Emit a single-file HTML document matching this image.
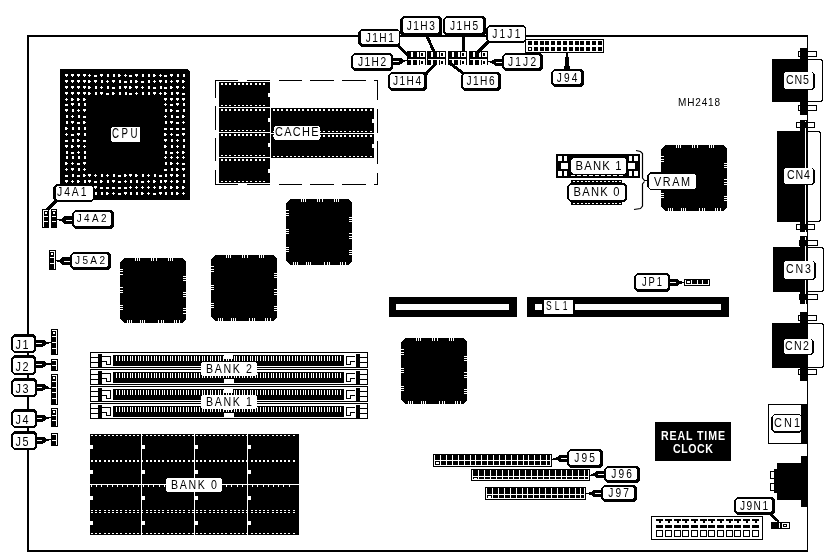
<!DOCTYPE html>
<html><head><meta charset="utf-8"><style>html,body{margin:0;padding:0;background:#fff;width:828px;height:557px;overflow:hidden}svg{display:block;will-change:transform}</style></head>
<body><svg width="828" height="557" viewBox="0 0 828 557" shape-rendering="crispEdges">
<rect width="828" height="557" fill="#fff"/>
<rect x="27" y="35" width="781" height="2" fill="#000"/>
<rect x="27" y="35" width="2" height="517" fill="#000"/>
<rect x="27" y="550" width="781" height="2" fill="#000"/>
<rect x="807" y="35" width="1" height="517" fill="#000"/>
<polygon points="60,69 187,69 190,72 190,200 60,200" fill="#000"/>
<rect x="65" y="74" width="3" height="2" fill="#fff"/>
<rect x="66" y="76" width="1" height="1" fill="#fff"/>
<rect x="65" y="80" width="3" height="2" fill="#fff"/>
<rect x="66" y="82" width="1" height="1" fill="#fff"/>
<rect x="65" y="86" width="3" height="2" fill="#fff"/>
<rect x="66" y="88" width="1" height="1" fill="#fff"/>
<rect x="65" y="92" width="3" height="2" fill="#fff"/>
<rect x="66" y="94" width="1" height="1" fill="#fff"/>
<rect x="66" y="98" width="1" height="3" fill="#fff"/>
<rect x="65" y="99" width="3" height="1" fill="#fff"/>
<rect x="65" y="103.5" width="3" height="2" fill="#fff"/>
<rect x="65" y="109" width="3" height="2" fill="#fff"/>
<rect x="66" y="111" width="1" height="1" fill="#fff"/>
<rect x="65.5" y="115" width="2" height="3" fill="#fff"/>
<rect x="65.5" y="121" width="2" height="3" fill="#fff"/>
<rect x="65" y="127" width="2" height="3" fill="#fff"/>
<rect x="67" y="128" width="1" height="1" fill="#fff"/>
<rect x="66" y="133" width="1" height="3" fill="#fff"/>
<rect x="65" y="134" width="3" height="1" fill="#fff"/>
<rect x="65" y="139.5" width="3" height="2" fill="#fff"/>
<rect x="65" y="145" width="3" height="2" fill="#fff"/>
<rect x="66" y="147" width="1" height="1" fill="#fff"/>
<rect x="65.5" y="151" width="2" height="3" fill="#fff"/>
<rect x="65.5" y="156" width="2" height="3" fill="#fff"/>
<rect x="65" y="162" width="2" height="3" fill="#fff"/>
<rect x="67" y="163" width="1" height="1" fill="#fff"/>
<rect x="66" y="168" width="1" height="3" fill="#fff"/>
<rect x="65" y="169" width="3" height="1" fill="#fff"/>
<rect x="65" y="174.5" width="3" height="2" fill="#fff"/>
<rect x="65" y="180" width="3" height="2" fill="#fff"/>
<rect x="66" y="182" width="1" height="1" fill="#fff"/>
<rect x="65.5" y="186" width="2" height="3" fill="#fff"/>
<rect x="65.5" y="192" width="2" height="3" fill="#fff"/>
<rect x="71" y="74" width="3" height="2" fill="#fff"/>
<rect x="72" y="76" width="1" height="1" fill="#fff"/>
<rect x="71" y="80" width="3" height="2" fill="#fff"/>
<rect x="72" y="82" width="1" height="1" fill="#fff"/>
<rect x="71" y="86" width="3" height="2" fill="#fff"/>
<rect x="72" y="88" width="1" height="1" fill="#fff"/>
<rect x="71" y="92" width="3" height="2" fill="#fff"/>
<rect x="72" y="94" width="1" height="1" fill="#fff"/>
<rect x="71" y="98" width="2" height="3" fill="#fff"/>
<rect x="73" y="99" width="1" height="1" fill="#fff"/>
<rect x="71" y="103" width="3" height="2" fill="#fff"/>
<rect x="72" y="105" width="1" height="1" fill="#fff"/>
<rect x="71.5" y="109" width="2" height="3" fill="#fff"/>
<rect x="72" y="115" width="1" height="3" fill="#fff"/>
<rect x="71" y="116" width="3" height="1" fill="#fff"/>
<rect x="71" y="121" width="3" height="2" fill="#fff"/>
<rect x="72" y="123" width="1" height="1" fill="#fff"/>
<rect x="71.5" y="127" width="2" height="3" fill="#fff"/>
<rect x="71" y="133.5" width="3" height="2" fill="#fff"/>
<rect x="71.5" y="139" width="2" height="3" fill="#fff"/>
<rect x="71" y="145" width="2" height="3" fill="#fff"/>
<rect x="73" y="146" width="1" height="1" fill="#fff"/>
<rect x="71" y="151.5" width="3" height="2" fill="#fff"/>
<rect x="71.5" y="156" width="2" height="3" fill="#fff"/>
<rect x="72" y="162" width="1" height="3" fill="#fff"/>
<rect x="71" y="163" width="3" height="1" fill="#fff"/>
<rect x="71" y="168" width="3" height="2" fill="#fff"/>
<rect x="72" y="170" width="1" height="1" fill="#fff"/>
<rect x="71.5" y="174" width="2" height="3" fill="#fff"/>
<rect x="72" y="180" width="1" height="3" fill="#fff"/>
<rect x="71" y="181" width="3" height="1" fill="#fff"/>
<rect x="71" y="186" width="3" height="2" fill="#fff"/>
<rect x="72" y="188" width="1" height="1" fill="#fff"/>
<rect x="71" y="192" width="2" height="3" fill="#fff"/>
<rect x="73" y="193" width="1" height="1" fill="#fff"/>
<rect x="77" y="74" width="3" height="2" fill="#fff"/>
<rect x="78" y="76" width="1" height="1" fill="#fff"/>
<rect x="77" y="80" width="3" height="2" fill="#fff"/>
<rect x="78" y="82" width="1" height="1" fill="#fff"/>
<rect x="77" y="86" width="3" height="2" fill="#fff"/>
<rect x="78" y="88" width="1" height="1" fill="#fff"/>
<rect x="77" y="92" width="3" height="2" fill="#fff"/>
<rect x="78" y="94" width="1" height="1" fill="#fff"/>
<rect x="77" y="98" width="2" height="3" fill="#fff"/>
<rect x="79" y="99" width="1" height="1" fill="#fff"/>
<rect x="77.5" y="103" width="2" height="3" fill="#fff"/>
<rect x="78" y="109" width="1" height="3" fill="#fff"/>
<rect x="77" y="110" width="3" height="1" fill="#fff"/>
<rect x="77.5" y="115" width="2" height="3" fill="#fff"/>
<rect x="77" y="121.5" width="3" height="2" fill="#fff"/>
<rect x="77.5" y="127" width="2" height="3" fill="#fff"/>
<rect x="77" y="133" width="3" height="2" fill="#fff"/>
<rect x="78" y="135" width="1" height="1" fill="#fff"/>
<rect x="77" y="139" width="2" height="3" fill="#fff"/>
<rect x="79" y="140" width="1" height="1" fill="#fff"/>
<rect x="77" y="145" width="3" height="2" fill="#fff"/>
<rect x="78" y="147" width="1" height="1" fill="#fff"/>
<rect x="78" y="151" width="1" height="3" fill="#fff"/>
<rect x="77" y="152" width="3" height="1" fill="#fff"/>
<rect x="77.5" y="156" width="2" height="3" fill="#fff"/>
<rect x="77" y="162.5" width="3" height="2" fill="#fff"/>
<rect x="77.5" y="168" width="2" height="3" fill="#fff"/>
<rect x="77" y="174.5" width="3" height="2" fill="#fff"/>
<rect x="77" y="180" width="2" height="3" fill="#fff"/>
<rect x="79" y="181" width="1" height="1" fill="#fff"/>
<rect x="77" y="186" width="3" height="2" fill="#fff"/>
<rect x="78" y="188" width="1" height="1" fill="#fff"/>
<rect x="78" y="192" width="1" height="3" fill="#fff"/>
<rect x="77" y="193" width="3" height="1" fill="#fff"/>
<rect x="83" y="74" width="3" height="2" fill="#fff"/>
<rect x="84" y="76" width="1" height="1" fill="#fff"/>
<rect x="83" y="80" width="3" height="2" fill="#fff"/>
<rect x="84" y="82" width="1" height="1" fill="#fff"/>
<rect x="83" y="86" width="3" height="2" fill="#fff"/>
<rect x="84" y="88" width="1" height="1" fill="#fff"/>
<rect x="83" y="92" width="3" height="2" fill="#fff"/>
<rect x="84" y="94" width="1" height="1" fill="#fff"/>
<rect x="83" y="98" width="2" height="3" fill="#fff"/>
<rect x="85" y="99" width="1" height="1" fill="#fff"/>
<rect x="83.5" y="103" width="2" height="3" fill="#fff"/>
<rect x="83" y="109" width="3" height="2" fill="#fff"/>
<rect x="84" y="111" width="1" height="1" fill="#fff"/>
<rect x="83" y="115.5" width="3" height="2" fill="#fff"/>
<rect x="83" y="121" width="2" height="3" fill="#fff"/>
<rect x="85" y="122" width="1" height="1" fill="#fff"/>
<rect x="83.5" y="127" width="2" height="3" fill="#fff"/>
<rect x="83.5" y="133" width="2" height="3" fill="#fff"/>
<rect x="83" y="139.5" width="3" height="2" fill="#fff"/>
<rect x="84" y="145" width="1" height="3" fill="#fff"/>
<rect x="83" y="146" width="3" height="1" fill="#fff"/>
<rect x="83.5" y="151" width="2" height="3" fill="#fff"/>
<rect x="83.5" y="156" width="2" height="3" fill="#fff"/>
<rect x="83" y="162" width="3" height="2" fill="#fff"/>
<rect x="84" y="164" width="1" height="1" fill="#fff"/>
<rect x="84" y="168" width="1" height="3" fill="#fff"/>
<rect x="83" y="169" width="3" height="1" fill="#fff"/>
<rect x="83" y="174" width="2" height="3" fill="#fff"/>
<rect x="85" y="175" width="1" height="1" fill="#fff"/>
<rect x="83.5" y="180" width="2" height="3" fill="#fff"/>
<rect x="83" y="186" width="3" height="2" fill="#fff"/>
<rect x="84" y="188" width="1" height="1" fill="#fff"/>
<rect x="83" y="192.5" width="3" height="2" fill="#fff"/>
<rect x="89" y="74" width="1" height="3" fill="#fff"/>
<rect x="88" y="75" width="3" height="1" fill="#fff"/>
<rect x="88" y="80" width="2" height="3" fill="#fff"/>
<rect x="90" y="81" width="1" height="1" fill="#fff"/>
<rect x="88" y="86" width="2" height="3" fill="#fff"/>
<rect x="90" y="87" width="1" height="1" fill="#fff"/>
<rect x="88" y="92" width="2" height="3" fill="#fff"/>
<rect x="90" y="93" width="1" height="1" fill="#fff"/>
<rect x="88" y="174" width="3" height="2" fill="#fff"/>
<rect x="89" y="176" width="1" height="1" fill="#fff"/>
<rect x="88" y="180" width="3" height="2" fill="#fff"/>
<rect x="89" y="182" width="1" height="1" fill="#fff"/>
<rect x="88" y="186" width="3" height="2" fill="#fff"/>
<rect x="89" y="188" width="1" height="1" fill="#fff"/>
<rect x="88" y="192" width="3" height="2" fill="#fff"/>
<rect x="89" y="194" width="1" height="1" fill="#fff"/>
<rect x="94" y="74.5" width="3" height="2" fill="#fff"/>
<rect x="94" y="80" width="3" height="2" fill="#fff"/>
<rect x="95" y="82" width="1" height="1" fill="#fff"/>
<rect x="94.5" y="86" width="2" height="3" fill="#fff"/>
<rect x="94.5" y="92" width="2" height="3" fill="#fff"/>
<rect x="95" y="174" width="1" height="3" fill="#fff"/>
<rect x="94" y="175" width="3" height="1" fill="#fff"/>
<rect x="94" y="180.5" width="3" height="2" fill="#fff"/>
<rect x="94" y="186" width="3" height="2" fill="#fff"/>
<rect x="95" y="188" width="1" height="1" fill="#fff"/>
<rect x="94.5" y="192" width="2" height="3" fill="#fff"/>
<rect x="100" y="74" width="3" height="2" fill="#fff"/>
<rect x="101" y="76" width="1" height="1" fill="#fff"/>
<rect x="100.5" y="80" width="2" height="3" fill="#fff"/>
<rect x="101" y="86" width="1" height="3" fill="#fff"/>
<rect x="100" y="87" width="3" height="1" fill="#fff"/>
<rect x="100" y="92" width="3" height="2" fill="#fff"/>
<rect x="101" y="94" width="1" height="1" fill="#fff"/>
<rect x="100.5" y="174" width="2" height="3" fill="#fff"/>
<rect x="100" y="180" width="2" height="3" fill="#fff"/>
<rect x="102" y="181" width="1" height="1" fill="#fff"/>
<rect x="100" y="186.5" width="3" height="2" fill="#fff"/>
<rect x="100.5" y="192" width="2" height="3" fill="#fff"/>
<rect x="106.5" y="74" width="2" height="3" fill="#fff"/>
<rect x="107" y="80" width="1" height="3" fill="#fff"/>
<rect x="106" y="81" width="3" height="1" fill="#fff"/>
<rect x="106.5" y="86" width="2" height="3" fill="#fff"/>
<rect x="106" y="92.5" width="3" height="2" fill="#fff"/>
<rect x="107" y="174" width="1" height="3" fill="#fff"/>
<rect x="106" y="175" width="3" height="1" fill="#fff"/>
<rect x="106.5" y="180" width="2" height="3" fill="#fff"/>
<rect x="106" y="186.5" width="3" height="2" fill="#fff"/>
<rect x="106" y="192" width="2" height="3" fill="#fff"/>
<rect x="108" y="193" width="1" height="1" fill="#fff"/>
<rect x="112.5" y="74" width="2" height="3" fill="#fff"/>
<rect x="112" y="80" width="3" height="2" fill="#fff"/>
<rect x="113" y="82" width="1" height="1" fill="#fff"/>
<rect x="112" y="86.5" width="3" height="2" fill="#fff"/>
<rect x="112" y="92" width="2" height="3" fill="#fff"/>
<rect x="114" y="93" width="1" height="1" fill="#fff"/>
<rect x="112.5" y="174" width="2" height="3" fill="#fff"/>
<rect x="112" y="180" width="3" height="2" fill="#fff"/>
<rect x="113" y="182" width="1" height="1" fill="#fff"/>
<rect x="112" y="186.5" width="3" height="2" fill="#fff"/>
<rect x="113" y="192" width="1" height="3" fill="#fff"/>
<rect x="112" y="193" width="3" height="1" fill="#fff"/>
<rect x="118" y="74" width="2" height="3" fill="#fff"/>
<rect x="120" y="75" width="1" height="1" fill="#fff"/>
<rect x="118.5" y="80" width="2" height="3" fill="#fff"/>
<rect x="118.5" y="86" width="2" height="3" fill="#fff"/>
<rect x="118.5" y="92" width="2" height="3" fill="#fff"/>
<rect x="118" y="174.5" width="3" height="2" fill="#fff"/>
<rect x="118" y="180.5" width="3" height="2" fill="#fff"/>
<rect x="118" y="186.5" width="3" height="2" fill="#fff"/>
<rect x="118" y="192.5" width="3" height="2" fill="#fff"/>
<rect x="125" y="74" width="1" height="3" fill="#fff"/>
<rect x="124" y="75" width="3" height="1" fill="#fff"/>
<rect x="124" y="80.5" width="3" height="2" fill="#fff"/>
<rect x="124" y="86" width="3" height="2" fill="#fff"/>
<rect x="125" y="88" width="1" height="1" fill="#fff"/>
<rect x="124.5" y="92" width="2" height="3" fill="#fff"/>
<rect x="124" y="174" width="2" height="3" fill="#fff"/>
<rect x="126" y="175" width="1" height="1" fill="#fff"/>
<rect x="125" y="180" width="1" height="3" fill="#fff"/>
<rect x="124" y="181" width="3" height="1" fill="#fff"/>
<rect x="124" y="186.5" width="3" height="2" fill="#fff"/>
<rect x="124" y="192" width="3" height="2" fill="#fff"/>
<rect x="125" y="194" width="1" height="1" fill="#fff"/>
<rect x="129" y="74.5" width="3" height="2" fill="#fff"/>
<rect x="129.5" y="80" width="2" height="3" fill="#fff"/>
<rect x="129" y="86" width="2" height="3" fill="#fff"/>
<rect x="131" y="87" width="1" height="1" fill="#fff"/>
<rect x="129" y="92.5" width="3" height="2" fill="#fff"/>
<rect x="129" y="174" width="3" height="2" fill="#fff"/>
<rect x="130" y="176" width="1" height="1" fill="#fff"/>
<rect x="129.5" y="180" width="2" height="3" fill="#fff"/>
<rect x="130" y="186" width="1" height="3" fill="#fff"/>
<rect x="129" y="187" width="3" height="1" fill="#fff"/>
<rect x="129.5" y="192" width="2" height="3" fill="#fff"/>
<rect x="135" y="74" width="3" height="2" fill="#fff"/>
<rect x="136" y="76" width="1" height="1" fill="#fff"/>
<rect x="135" y="80" width="2" height="3" fill="#fff"/>
<rect x="137" y="81" width="1" height="1" fill="#fff"/>
<rect x="135" y="86" width="3" height="2" fill="#fff"/>
<rect x="136" y="88" width="1" height="1" fill="#fff"/>
<rect x="136" y="92" width="1" height="3" fill="#fff"/>
<rect x="135" y="93" width="3" height="1" fill="#fff"/>
<rect x="135" y="174" width="2" height="3" fill="#fff"/>
<rect x="137" y="175" width="1" height="1" fill="#fff"/>
<rect x="135.5" y="180" width="2" height="3" fill="#fff"/>
<rect x="136" y="186" width="1" height="3" fill="#fff"/>
<rect x="135" y="187" width="3" height="1" fill="#fff"/>
<rect x="135.5" y="192" width="2" height="3" fill="#fff"/>
<rect x="141.5" y="74" width="2" height="3" fill="#fff"/>
<rect x="141" y="80.5" width="3" height="2" fill="#fff"/>
<rect x="142" y="86" width="1" height="3" fill="#fff"/>
<rect x="141" y="87" width="3" height="1" fill="#fff"/>
<rect x="141.5" y="92" width="2" height="3" fill="#fff"/>
<rect x="141.5" y="174" width="2" height="3" fill="#fff"/>
<rect x="141" y="180.5" width="3" height="2" fill="#fff"/>
<rect x="142" y="186" width="1" height="3" fill="#fff"/>
<rect x="141" y="187" width="3" height="1" fill="#fff"/>
<rect x="141" y="192" width="2" height="3" fill="#fff"/>
<rect x="143" y="193" width="1" height="1" fill="#fff"/>
<rect x="147.5" y="74" width="2" height="3" fill="#fff"/>
<rect x="147.5" y="80" width="2" height="3" fill="#fff"/>
<rect x="147.5" y="86" width="2" height="3" fill="#fff"/>
<rect x="147.5" y="92" width="2" height="3" fill="#fff"/>
<rect x="148" y="174" width="1" height="3" fill="#fff"/>
<rect x="147" y="175" width="3" height="1" fill="#fff"/>
<rect x="148" y="180" width="1" height="3" fill="#fff"/>
<rect x="147" y="181" width="3" height="1" fill="#fff"/>
<rect x="148" y="186" width="1" height="3" fill="#fff"/>
<rect x="147" y="187" width="3" height="1" fill="#fff"/>
<rect x="148" y="192" width="1" height="3" fill="#fff"/>
<rect x="147" y="193" width="3" height="1" fill="#fff"/>
<rect x="153" y="74" width="2" height="3" fill="#fff"/>
<rect x="155" y="75" width="1" height="1" fill="#fff"/>
<rect x="154" y="80" width="1" height="3" fill="#fff"/>
<rect x="153" y="81" width="3" height="1" fill="#fff"/>
<rect x="153" y="86.5" width="3" height="2" fill="#fff"/>
<rect x="153" y="92" width="3" height="2" fill="#fff"/>
<rect x="154" y="94" width="1" height="1" fill="#fff"/>
<rect x="153.5" y="174" width="2" height="3" fill="#fff"/>
<rect x="153" y="180" width="2" height="3" fill="#fff"/>
<rect x="155" y="181" width="1" height="1" fill="#fff"/>
<rect x="154" y="186" width="1" height="3" fill="#fff"/>
<rect x="153" y="187" width="3" height="1" fill="#fff"/>
<rect x="153" y="192.5" width="3" height="2" fill="#fff"/>
<rect x="160" y="74" width="1" height="3" fill="#fff"/>
<rect x="159" y="75" width="3" height="1" fill="#fff"/>
<rect x="159" y="80" width="3" height="2" fill="#fff"/>
<rect x="160" y="82" width="1" height="1" fill="#fff"/>
<rect x="159.5" y="86" width="2" height="3" fill="#fff"/>
<rect x="160" y="92" width="1" height="3" fill="#fff"/>
<rect x="159" y="93" width="3" height="1" fill="#fff"/>
<rect x="159" y="174.5" width="3" height="2" fill="#fff"/>
<rect x="159.5" y="180" width="2" height="3" fill="#fff"/>
<rect x="159" y="186" width="2" height="3" fill="#fff"/>
<rect x="161" y="187" width="1" height="1" fill="#fff"/>
<rect x="159" y="192" width="3" height="2" fill="#fff"/>
<rect x="160" y="194" width="1" height="1" fill="#fff"/>
<rect x="164" y="74.5" width="3" height="2" fill="#fff"/>
<rect x="164.5" y="80" width="2" height="3" fill="#fff"/>
<rect x="164" y="86.5" width="3" height="2" fill="#fff"/>
<rect x="164" y="92" width="2" height="3" fill="#fff"/>
<rect x="166" y="93" width="1" height="1" fill="#fff"/>
<rect x="164" y="98" width="3" height="2" fill="#fff"/>
<rect x="165" y="100" width="1" height="1" fill="#fff"/>
<rect x="165" y="103" width="1" height="3" fill="#fff"/>
<rect x="164" y="104" width="3" height="1" fill="#fff"/>
<rect x="164.5" y="109" width="2" height="3" fill="#fff"/>
<rect x="165" y="115" width="1" height="3" fill="#fff"/>
<rect x="164" y="116" width="3" height="1" fill="#fff"/>
<rect x="164.5" y="121" width="2" height="3" fill="#fff"/>
<rect x="164" y="127.5" width="3" height="2" fill="#fff"/>
<rect x="164" y="133" width="2" height="3" fill="#fff"/>
<rect x="166" y="134" width="1" height="1" fill="#fff"/>
<rect x="164" y="139" width="3" height="2" fill="#fff"/>
<rect x="165" y="141" width="1" height="1" fill="#fff"/>
<rect x="164" y="145" width="2" height="3" fill="#fff"/>
<rect x="166" y="146" width="1" height="1" fill="#fff"/>
<rect x="164.5" y="151" width="2" height="3" fill="#fff"/>
<rect x="165" y="156" width="1" height="3" fill="#fff"/>
<rect x="164" y="157" width="3" height="1" fill="#fff"/>
<rect x="164.5" y="162" width="2" height="3" fill="#fff"/>
<rect x="164" y="168.5" width="3" height="2" fill="#fff"/>
<rect x="164.5" y="174" width="2" height="3" fill="#fff"/>
<rect x="164" y="180" width="3" height="2" fill="#fff"/>
<rect x="165" y="182" width="1" height="1" fill="#fff"/>
<rect x="164" y="186" width="2" height="3" fill="#fff"/>
<rect x="166" y="187" width="1" height="1" fill="#fff"/>
<rect x="164.5" y="192" width="2" height="3" fill="#fff"/>
<rect x="170" y="74" width="3" height="2" fill="#fff"/>
<rect x="171" y="76" width="1" height="1" fill="#fff"/>
<rect x="171" y="80" width="1" height="3" fill="#fff"/>
<rect x="170" y="81" width="3" height="1" fill="#fff"/>
<rect x="170" y="86" width="2" height="3" fill="#fff"/>
<rect x="172" y="87" width="1" height="1" fill="#fff"/>
<rect x="170.5" y="92" width="2" height="3" fill="#fff"/>
<rect x="170" y="98" width="3" height="2" fill="#fff"/>
<rect x="171" y="100" width="1" height="1" fill="#fff"/>
<rect x="170" y="103.5" width="3" height="2" fill="#fff"/>
<rect x="170" y="109" width="2" height="3" fill="#fff"/>
<rect x="172" y="110" width="1" height="1" fill="#fff"/>
<rect x="170.5" y="115" width="2" height="3" fill="#fff"/>
<rect x="170" y="121" width="3" height="2" fill="#fff"/>
<rect x="171" y="123" width="1" height="1" fill="#fff"/>
<rect x="170" y="127.5" width="3" height="2" fill="#fff"/>
<rect x="171" y="133" width="1" height="3" fill="#fff"/>
<rect x="170" y="134" width="3" height="1" fill="#fff"/>
<rect x="170.5" y="139" width="2" height="3" fill="#fff"/>
<rect x="170.5" y="145" width="2" height="3" fill="#fff"/>
<rect x="170" y="151.5" width="3" height="2" fill="#fff"/>
<rect x="171" y="156" width="1" height="3" fill="#fff"/>
<rect x="170" y="157" width="3" height="1" fill="#fff"/>
<rect x="170" y="162" width="2" height="3" fill="#fff"/>
<rect x="172" y="163" width="1" height="1" fill="#fff"/>
<rect x="170.5" y="168" width="2" height="3" fill="#fff"/>
<rect x="170" y="174" width="3" height="2" fill="#fff"/>
<rect x="171" y="176" width="1" height="1" fill="#fff"/>
<rect x="171" y="180" width="1" height="3" fill="#fff"/>
<rect x="170" y="181" width="3" height="1" fill="#fff"/>
<rect x="170" y="186" width="2" height="3" fill="#fff"/>
<rect x="172" y="187" width="1" height="1" fill="#fff"/>
<rect x="170.5" y="192" width="2" height="3" fill="#fff"/>
<rect x="176.5" y="74" width="2" height="3" fill="#fff"/>
<rect x="176" y="80" width="3" height="2" fill="#fff"/>
<rect x="177" y="82" width="1" height="1" fill="#fff"/>
<rect x="176" y="86" width="3" height="2" fill="#fff"/>
<rect x="177" y="88" width="1" height="1" fill="#fff"/>
<rect x="176" y="92" width="3" height="2" fill="#fff"/>
<rect x="177" y="94" width="1" height="1" fill="#fff"/>
<rect x="176" y="98" width="3" height="2" fill="#fff"/>
<rect x="177" y="100" width="1" height="1" fill="#fff"/>
<rect x="176" y="103" width="3" height="2" fill="#fff"/>
<rect x="177" y="105" width="1" height="1" fill="#fff"/>
<rect x="176" y="109.5" width="3" height="2" fill="#fff"/>
<rect x="176" y="115.5" width="3" height="2" fill="#fff"/>
<rect x="176" y="121.5" width="3" height="2" fill="#fff"/>
<rect x="176" y="127.5" width="3" height="2" fill="#fff"/>
<rect x="176" y="133.5" width="3" height="2" fill="#fff"/>
<rect x="177" y="139" width="1" height="3" fill="#fff"/>
<rect x="176" y="140" width="3" height="1" fill="#fff"/>
<rect x="177" y="145" width="1" height="3" fill="#fff"/>
<rect x="176" y="146" width="3" height="1" fill="#fff"/>
<rect x="177" y="151" width="1" height="3" fill="#fff"/>
<rect x="176" y="152" width="3" height="1" fill="#fff"/>
<rect x="177" y="156" width="1" height="3" fill="#fff"/>
<rect x="176" y="157" width="3" height="1" fill="#fff"/>
<rect x="177" y="162" width="1" height="3" fill="#fff"/>
<rect x="176" y="163" width="3" height="1" fill="#fff"/>
<rect x="176" y="168" width="2" height="3" fill="#fff"/>
<rect x="178" y="169" width="1" height="1" fill="#fff"/>
<rect x="176" y="174" width="2" height="3" fill="#fff"/>
<rect x="178" y="175" width="1" height="1" fill="#fff"/>
<rect x="176" y="180" width="2" height="3" fill="#fff"/>
<rect x="178" y="181" width="1" height="1" fill="#fff"/>
<rect x="176" y="186" width="2" height="3" fill="#fff"/>
<rect x="178" y="187" width="1" height="1" fill="#fff"/>
<rect x="176" y="192" width="2" height="3" fill="#fff"/>
<rect x="178" y="193" width="1" height="1" fill="#fff"/>
<rect x="182.5" y="74" width="2" height="3" fill="#fff"/>
<rect x="182" y="80" width="2" height="3" fill="#fff"/>
<rect x="184" y="81" width="1" height="1" fill="#fff"/>
<rect x="183" y="86" width="1" height="3" fill="#fff"/>
<rect x="182" y="87" width="3" height="1" fill="#fff"/>
<rect x="182" y="92.5" width="3" height="2" fill="#fff"/>
<rect x="182" y="98" width="3" height="2" fill="#fff"/>
<rect x="183" y="100" width="1" height="1" fill="#fff"/>
<rect x="182.5" y="103" width="2" height="3" fill="#fff"/>
<rect x="182.5" y="109" width="2" height="3" fill="#fff"/>
<rect x="182" y="115" width="2" height="3" fill="#fff"/>
<rect x="184" y="116" width="1" height="1" fill="#fff"/>
<rect x="183" y="121" width="1" height="3" fill="#fff"/>
<rect x="182" y="122" width="3" height="1" fill="#fff"/>
<rect x="182" y="127.5" width="3" height="2" fill="#fff"/>
<rect x="182" y="133" width="3" height="2" fill="#fff"/>
<rect x="183" y="135" width="1" height="1" fill="#fff"/>
<rect x="182.5" y="139" width="2" height="3" fill="#fff"/>
<rect x="182.5" y="145" width="2" height="3" fill="#fff"/>
<rect x="182" y="151" width="2" height="3" fill="#fff"/>
<rect x="184" y="152" width="1" height="1" fill="#fff"/>
<rect x="183" y="156" width="1" height="3" fill="#fff"/>
<rect x="182" y="157" width="3" height="1" fill="#fff"/>
<rect x="182" y="162.5" width="3" height="2" fill="#fff"/>
<rect x="182" y="168" width="3" height="2" fill="#fff"/>
<rect x="183" y="170" width="1" height="1" fill="#fff"/>
<rect x="182.5" y="174" width="2" height="3" fill="#fff"/>
<rect x="182.5" y="180" width="2" height="3" fill="#fff"/>
<rect x="182" y="186" width="2" height="3" fill="#fff"/>
<rect x="184" y="187" width="1" height="1" fill="#fff"/>
<rect x="183" y="192" width="1" height="3" fill="#fff"/>
<rect x="182" y="193" width="3" height="1" fill="#fff"/>
<polygon points="111,128 112,127 139,127 140,128 140,141 139,142 112,142 111,141" fill="#fff"/>
<text transform="translate(112 138) scale(0.7 1)" font-family="Liberation Sans" font-size="13.89"  textLength="36.43" lengthAdjust="spacing" fill="#000">CPU</text>
<polygon points="286,203 290,199 348,199 352,203 352,261 348,265 290,265 286,261" fill="#000"/>
<rect x="301" y="199" width="1" height="3" fill="#fff"/>
<rect x="303" y="199" width="1" height="3" fill="#fff"/>
<rect x="305" y="199" width="1" height="3" fill="#fff"/>
<rect x="317" y="199" width="1" height="3" fill="#fff"/>
<rect x="319" y="199" width="1" height="3" fill="#fff"/>
<rect x="322" y="199" width="1" height="3" fill="#fff"/>
<rect x="334" y="199" width="1" height="3" fill="#fff"/>
<rect x="336" y="199" width="1" height="3" fill="#fff"/>
<rect x="338" y="199" width="1" height="3" fill="#fff"/>
<rect x="293" y="262" width="1" height="3" fill="#fff"/>
<rect x="295" y="262" width="1" height="3" fill="#fff"/>
<rect x="297" y="262" width="1" height="3" fill="#fff"/>
<rect x="306" y="262" width="1" height="3" fill="#fff"/>
<rect x="308" y="262" width="1" height="3" fill="#fff"/>
<rect x="310" y="262" width="1" height="3" fill="#fff"/>
<rect x="324" y="262" width="1" height="3" fill="#fff"/>
<rect x="327" y="262" width="1" height="3" fill="#fff"/>
<rect x="329" y="262" width="1" height="3" fill="#fff"/>
<rect x="340" y="262" width="1" height="3" fill="#fff"/>
<rect x="342" y="262" width="1" height="3" fill="#fff"/>
<rect x="345" y="262" width="1" height="3" fill="#fff"/>
<rect x="286" y="210" width="3" height="1" fill="#fff"/>
<rect x="286" y="213" width="3" height="1" fill="#fff"/>
<rect x="286" y="215" width="3" height="1" fill="#fff"/>
<rect x="286" y="229" width="3" height="1" fill="#fff"/>
<rect x="286" y="231" width="3" height="1" fill="#fff"/>
<rect x="286" y="233" width="3" height="1" fill="#fff"/>
<rect x="286" y="247" width="3" height="1" fill="#fff"/>
<rect x="286" y="249" width="3" height="1" fill="#fff"/>
<rect x="286" y="251" width="3" height="1" fill="#fff"/>
<rect x="349" y="217" width="3" height="1" fill="#fff"/>
<rect x="349" y="219" width="3" height="1" fill="#fff"/>
<rect x="349" y="221" width="3" height="1" fill="#fff"/>
<rect x="349" y="233" width="3" height="1" fill="#fff"/>
<rect x="349" y="236" width="3" height="1" fill="#fff"/>
<rect x="349" y="238" width="3" height="1" fill="#fff"/>
<rect x="349" y="250" width="3" height="1" fill="#fff"/>
<rect x="349" y="252" width="3" height="1" fill="#fff"/>
<rect x="349" y="254" width="3" height="1" fill="#fff"/>
<polygon points="120,262 124,258 182,258 186,262 186,319 182,323 124,323 120,319" fill="#000"/>
<rect x="135" y="258" width="1" height="3" fill="#fff"/>
<rect x="137" y="258" width="1" height="3" fill="#fff"/>
<rect x="139" y="258" width="1" height="3" fill="#fff"/>
<rect x="151" y="258" width="1" height="3" fill="#fff"/>
<rect x="153" y="258" width="1" height="3" fill="#fff"/>
<rect x="156" y="258" width="1" height="3" fill="#fff"/>
<rect x="168" y="258" width="1" height="3" fill="#fff"/>
<rect x="170" y="258" width="1" height="3" fill="#fff"/>
<rect x="172" y="258" width="1" height="3" fill="#fff"/>
<rect x="127" y="320" width="1" height="3" fill="#fff"/>
<rect x="129" y="320" width="1" height="3" fill="#fff"/>
<rect x="131" y="320" width="1" height="3" fill="#fff"/>
<rect x="140" y="320" width="1" height="3" fill="#fff"/>
<rect x="142" y="320" width="1" height="3" fill="#fff"/>
<rect x="144" y="320" width="1" height="3" fill="#fff"/>
<rect x="158" y="320" width="1" height="3" fill="#fff"/>
<rect x="161" y="320" width="1" height="3" fill="#fff"/>
<rect x="163" y="320" width="1" height="3" fill="#fff"/>
<rect x="174" y="320" width="1" height="3" fill="#fff"/>
<rect x="176" y="320" width="1" height="3" fill="#fff"/>
<rect x="179" y="320" width="1" height="3" fill="#fff"/>
<rect x="120" y="269" width="3" height="1" fill="#fff"/>
<rect x="120" y="271" width="3" height="1" fill="#fff"/>
<rect x="120" y="274" width="3" height="1" fill="#fff"/>
<rect x="120" y="287" width="3" height="1" fill="#fff"/>
<rect x="120" y="290" width="3" height="1" fill="#fff"/>
<rect x="120" y="292" width="3" height="1" fill="#fff"/>
<rect x="120" y="305" width="3" height="1" fill="#fff"/>
<rect x="120" y="307" width="3" height="1" fill="#fff"/>
<rect x="120" y="309" width="3" height="1" fill="#fff"/>
<rect x="183" y="276" width="3" height="1" fill="#fff"/>
<rect x="183" y="278" width="3" height="1" fill="#fff"/>
<rect x="183" y="280" width="3" height="1" fill="#fff"/>
<rect x="183" y="292" width="3" height="1" fill="#fff"/>
<rect x="183" y="294" width="3" height="1" fill="#fff"/>
<rect x="183" y="296" width="3" height="1" fill="#fff"/>
<rect x="183" y="308" width="3" height="1" fill="#fff"/>
<rect x="183" y="310" width="3" height="1" fill="#fff"/>
<rect x="183" y="313" width="3" height="1" fill="#fff"/>
<polygon points="211,259 215,255 273,255 277,259 277,317 273,321 215,321 211,317" fill="#000"/>
<rect x="226" y="255" width="1" height="3" fill="#fff"/>
<rect x="228" y="255" width="1" height="3" fill="#fff"/>
<rect x="230" y="255" width="1" height="3" fill="#fff"/>
<rect x="242" y="255" width="1" height="3" fill="#fff"/>
<rect x="244" y="255" width="1" height="3" fill="#fff"/>
<rect x="247" y="255" width="1" height="3" fill="#fff"/>
<rect x="259" y="255" width="1" height="3" fill="#fff"/>
<rect x="261" y="255" width="1" height="3" fill="#fff"/>
<rect x="263" y="255" width="1" height="3" fill="#fff"/>
<rect x="218" y="318" width="1" height="3" fill="#fff"/>
<rect x="220" y="318" width="1" height="3" fill="#fff"/>
<rect x="222" y="318" width="1" height="3" fill="#fff"/>
<rect x="231" y="318" width="1" height="3" fill="#fff"/>
<rect x="233" y="318" width="1" height="3" fill="#fff"/>
<rect x="235" y="318" width="1" height="3" fill="#fff"/>
<rect x="249" y="318" width="1" height="3" fill="#fff"/>
<rect x="252" y="318" width="1" height="3" fill="#fff"/>
<rect x="254" y="318" width="1" height="3" fill="#fff"/>
<rect x="265" y="318" width="1" height="3" fill="#fff"/>
<rect x="267" y="318" width="1" height="3" fill="#fff"/>
<rect x="270" y="318" width="1" height="3" fill="#fff"/>
<rect x="211" y="266" width="3" height="1" fill="#fff"/>
<rect x="211" y="269" width="3" height="1" fill="#fff"/>
<rect x="211" y="271" width="3" height="1" fill="#fff"/>
<rect x="211" y="285" width="3" height="1" fill="#fff"/>
<rect x="211" y="287" width="3" height="1" fill="#fff"/>
<rect x="211" y="289" width="3" height="1" fill="#fff"/>
<rect x="211" y="303" width="3" height="1" fill="#fff"/>
<rect x="211" y="305" width="3" height="1" fill="#fff"/>
<rect x="211" y="307" width="3" height="1" fill="#fff"/>
<rect x="274" y="273" width="3" height="1" fill="#fff"/>
<rect x="274" y="275" width="3" height="1" fill="#fff"/>
<rect x="274" y="277" width="3" height="1" fill="#fff"/>
<rect x="274" y="289" width="3" height="1" fill="#fff"/>
<rect x="274" y="292" width="3" height="1" fill="#fff"/>
<rect x="274" y="294" width="3" height="1" fill="#fff"/>
<rect x="274" y="306" width="3" height="1" fill="#fff"/>
<rect x="274" y="308" width="3" height="1" fill="#fff"/>
<rect x="274" y="310" width="3" height="1" fill="#fff"/>
<polygon points="401,342 405,338 463,338 467,342 467,400 463,404 405,404 401,400" fill="#000"/>
<rect x="416" y="338" width="1" height="3" fill="#fff"/>
<rect x="418" y="338" width="1" height="3" fill="#fff"/>
<rect x="420" y="338" width="1" height="3" fill="#fff"/>
<rect x="432" y="338" width="1" height="3" fill="#fff"/>
<rect x="434" y="338" width="1" height="3" fill="#fff"/>
<rect x="437" y="338" width="1" height="3" fill="#fff"/>
<rect x="449" y="338" width="1" height="3" fill="#fff"/>
<rect x="451" y="338" width="1" height="3" fill="#fff"/>
<rect x="453" y="338" width="1" height="3" fill="#fff"/>
<rect x="408" y="401" width="1" height="3" fill="#fff"/>
<rect x="410" y="401" width="1" height="3" fill="#fff"/>
<rect x="412" y="401" width="1" height="3" fill="#fff"/>
<rect x="421" y="401" width="1" height="3" fill="#fff"/>
<rect x="423" y="401" width="1" height="3" fill="#fff"/>
<rect x="425" y="401" width="1" height="3" fill="#fff"/>
<rect x="439" y="401" width="1" height="3" fill="#fff"/>
<rect x="442" y="401" width="1" height="3" fill="#fff"/>
<rect x="444" y="401" width="1" height="3" fill="#fff"/>
<rect x="455" y="401" width="1" height="3" fill="#fff"/>
<rect x="457" y="401" width="1" height="3" fill="#fff"/>
<rect x="460" y="401" width="1" height="3" fill="#fff"/>
<rect x="401" y="349" width="3" height="1" fill="#fff"/>
<rect x="401" y="352" width="3" height="1" fill="#fff"/>
<rect x="401" y="354" width="3" height="1" fill="#fff"/>
<rect x="401" y="368" width="3" height="1" fill="#fff"/>
<rect x="401" y="370" width="3" height="1" fill="#fff"/>
<rect x="401" y="372" width="3" height="1" fill="#fff"/>
<rect x="401" y="386" width="3" height="1" fill="#fff"/>
<rect x="401" y="388" width="3" height="1" fill="#fff"/>
<rect x="401" y="390" width="3" height="1" fill="#fff"/>
<rect x="464" y="356" width="3" height="1" fill="#fff"/>
<rect x="464" y="358" width="3" height="1" fill="#fff"/>
<rect x="464" y="360" width="3" height="1" fill="#fff"/>
<rect x="464" y="372" width="3" height="1" fill="#fff"/>
<rect x="464" y="375" width="3" height="1" fill="#fff"/>
<rect x="464" y="377" width="3" height="1" fill="#fff"/>
<rect x="464" y="389" width="3" height="1" fill="#fff"/>
<rect x="464" y="391" width="3" height="1" fill="#fff"/>
<rect x="464" y="393" width="3" height="1" fill="#fff"/>
<rect x="215" y="80" width="23" height="1" fill="#000"/>
<rect x="215" y="184" width="23" height="1" fill="#000"/>
<rect x="247" y="80" width="23" height="1" fill="#000"/>
<rect x="247" y="184" width="23" height="1" fill="#000"/>
<rect x="279" y="80" width="23" height="1" fill="#000"/>
<rect x="279" y="184" width="23" height="1" fill="#000"/>
<rect x="310" y="80" width="24" height="1" fill="#000"/>
<rect x="310" y="184" width="24" height="1" fill="#000"/>
<rect x="342" y="80" width="24" height="1" fill="#000"/>
<rect x="342" y="184" width="24" height="1" fill="#000"/>
<rect x="374" y="80" width="4" height="1" fill="#000"/>
<rect x="374" y="184" width="4" height="1" fill="#000"/>
<rect x="377" y="80" width="1" height="20" fill="#000"/>
<rect x="377" y="109" width="1" height="24" fill="#000"/>
<rect x="377" y="141" width="1" height="23" fill="#000"/>
<rect x="377" y="173" width="1" height="12" fill="#000"/>
<rect x="215" y="80" width="1" height="18" fill="#000"/>
<rect x="215" y="106" width="1" height="24" fill="#000"/>
<rect x="215" y="138" width="1" height="23" fill="#000"/>
<rect x="215" y="170" width="1" height="15" fill="#000"/>
<rect x="219" y="82" width="51" height="25" fill="#000"/>
<rect x="221" y="83" width="2" height="1.5" fill="#fff"/>
<rect x="221" y="104.5" width="2" height="1.5" fill="#fff"/>
<rect x="225" y="83" width="2" height="1.5" fill="#fff"/>
<rect x="225" y="104.5" width="2" height="1.5" fill="#fff"/>
<rect x="229" y="83" width="2" height="1.5" fill="#fff"/>
<rect x="229" y="104.5" width="2" height="1.5" fill="#fff"/>
<rect x="234" y="83" width="2" height="1.5" fill="#fff"/>
<rect x="234" y="104.5" width="2" height="1.5" fill="#fff"/>
<rect x="238" y="83" width="2" height="1.5" fill="#fff"/>
<rect x="238" y="104.5" width="2" height="1.5" fill="#fff"/>
<rect x="242" y="83" width="2" height="1.5" fill="#fff"/>
<rect x="242" y="104.5" width="2" height="1.5" fill="#fff"/>
<rect x="246" y="83" width="2" height="1.5" fill="#fff"/>
<rect x="246" y="104.5" width="2" height="1.5" fill="#fff"/>
<rect x="250" y="83" width="2" height="1.5" fill="#fff"/>
<rect x="250" y="104.5" width="2" height="1.5" fill="#fff"/>
<rect x="255" y="83" width="2" height="1.5" fill="#fff"/>
<rect x="255" y="104.5" width="2" height="1.5" fill="#fff"/>
<rect x="259" y="83" width="2" height="1.5" fill="#fff"/>
<rect x="259" y="104.5" width="2" height="1.5" fill="#fff"/>
<rect x="263" y="83" width="2" height="1.5" fill="#fff"/>
<rect x="263" y="104.5" width="2" height="1.5" fill="#fff"/>
<rect x="268" y="92.5" width="2" height="4" fill="#fff"/>
<rect x="219" y="108" width="51" height="24" fill="#000"/>
<rect x="221" y="109" width="2" height="1.5" fill="#fff"/>
<rect x="221" y="129.5" width="2" height="1.5" fill="#fff"/>
<rect x="225" y="109" width="2" height="1.5" fill="#fff"/>
<rect x="225" y="129.5" width="2" height="1.5" fill="#fff"/>
<rect x="229" y="109" width="2" height="1.5" fill="#fff"/>
<rect x="229" y="129.5" width="2" height="1.5" fill="#fff"/>
<rect x="234" y="109" width="2" height="1.5" fill="#fff"/>
<rect x="234" y="129.5" width="2" height="1.5" fill="#fff"/>
<rect x="238" y="109" width="2" height="1.5" fill="#fff"/>
<rect x="238" y="129.5" width="2" height="1.5" fill="#fff"/>
<rect x="242" y="109" width="2" height="1.5" fill="#fff"/>
<rect x="242" y="129.5" width="2" height="1.5" fill="#fff"/>
<rect x="246" y="109" width="2" height="1.5" fill="#fff"/>
<rect x="246" y="129.5" width="2" height="1.5" fill="#fff"/>
<rect x="250" y="109" width="2" height="1.5" fill="#fff"/>
<rect x="250" y="129.5" width="2" height="1.5" fill="#fff"/>
<rect x="255" y="109" width="2" height="1.5" fill="#fff"/>
<rect x="255" y="129.5" width="2" height="1.5" fill="#fff"/>
<rect x="259" y="109" width="2" height="1.5" fill="#fff"/>
<rect x="259" y="129.5" width="2" height="1.5" fill="#fff"/>
<rect x="263" y="109" width="2" height="1.5" fill="#fff"/>
<rect x="263" y="129.5" width="2" height="1.5" fill="#fff"/>
<rect x="268" y="118" width="2" height="4" fill="#fff"/>
<rect x="219" y="133" width="51" height="24" fill="#000"/>
<rect x="221" y="134" width="2" height="1.5" fill="#fff"/>
<rect x="221" y="154.5" width="2" height="1.5" fill="#fff"/>
<rect x="225" y="134" width="2" height="1.5" fill="#fff"/>
<rect x="225" y="154.5" width="2" height="1.5" fill="#fff"/>
<rect x="229" y="134" width="2" height="1.5" fill="#fff"/>
<rect x="229" y="154.5" width="2" height="1.5" fill="#fff"/>
<rect x="234" y="134" width="2" height="1.5" fill="#fff"/>
<rect x="234" y="154.5" width="2" height="1.5" fill="#fff"/>
<rect x="238" y="134" width="2" height="1.5" fill="#fff"/>
<rect x="238" y="154.5" width="2" height="1.5" fill="#fff"/>
<rect x="242" y="134" width="2" height="1.5" fill="#fff"/>
<rect x="242" y="154.5" width="2" height="1.5" fill="#fff"/>
<rect x="246" y="134" width="2" height="1.5" fill="#fff"/>
<rect x="246" y="154.5" width="2" height="1.5" fill="#fff"/>
<rect x="250" y="134" width="2" height="1.5" fill="#fff"/>
<rect x="250" y="154.5" width="2" height="1.5" fill="#fff"/>
<rect x="255" y="134" width="2" height="1.5" fill="#fff"/>
<rect x="255" y="154.5" width="2" height="1.5" fill="#fff"/>
<rect x="259" y="134" width="2" height="1.5" fill="#fff"/>
<rect x="259" y="154.5" width="2" height="1.5" fill="#fff"/>
<rect x="263" y="134" width="2" height="1.5" fill="#fff"/>
<rect x="263" y="154.5" width="2" height="1.5" fill="#fff"/>
<rect x="268" y="143" width="2" height="4" fill="#fff"/>
<rect x="219" y="158" width="51" height="25" fill="#000"/>
<rect x="221" y="159" width="2" height="1.5" fill="#fff"/>
<rect x="221" y="180.5" width="2" height="1.5" fill="#fff"/>
<rect x="225" y="159" width="2" height="1.5" fill="#fff"/>
<rect x="225" y="180.5" width="2" height="1.5" fill="#fff"/>
<rect x="229" y="159" width="2" height="1.5" fill="#fff"/>
<rect x="229" y="180.5" width="2" height="1.5" fill="#fff"/>
<rect x="234" y="159" width="2" height="1.5" fill="#fff"/>
<rect x="234" y="180.5" width="2" height="1.5" fill="#fff"/>
<rect x="238" y="159" width="2" height="1.5" fill="#fff"/>
<rect x="238" y="180.5" width="2" height="1.5" fill="#fff"/>
<rect x="242" y="159" width="2" height="1.5" fill="#fff"/>
<rect x="242" y="180.5" width="2" height="1.5" fill="#fff"/>
<rect x="246" y="159" width="2" height="1.5" fill="#fff"/>
<rect x="246" y="180.5" width="2" height="1.5" fill="#fff"/>
<rect x="250" y="159" width="2" height="1.5" fill="#fff"/>
<rect x="250" y="180.5" width="2" height="1.5" fill="#fff"/>
<rect x="255" y="159" width="2" height="1.5" fill="#fff"/>
<rect x="255" y="180.5" width="2" height="1.5" fill="#fff"/>
<rect x="259" y="159" width="2" height="1.5" fill="#fff"/>
<rect x="259" y="180.5" width="2" height="1.5" fill="#fff"/>
<rect x="263" y="159" width="2" height="1.5" fill="#fff"/>
<rect x="263" y="180.5" width="2" height="1.5" fill="#fff"/>
<rect x="268" y="168.5" width="2" height="4" fill="#fff"/>
<rect x="271" y="108" width="103" height="25" fill="#000"/>
<rect x="273" y="109" width="2" height="1.5" fill="#fff"/>
<rect x="273" y="130.5" width="2" height="1.5" fill="#fff"/>
<rect x="277" y="109" width="2" height="1.5" fill="#fff"/>
<rect x="277" y="130.5" width="2" height="1.5" fill="#fff"/>
<rect x="281" y="109" width="2" height="1.5" fill="#fff"/>
<rect x="281" y="130.5" width="2" height="1.5" fill="#fff"/>
<rect x="286" y="109" width="2" height="1.5" fill="#fff"/>
<rect x="286" y="130.5" width="2" height="1.5" fill="#fff"/>
<rect x="290" y="109" width="2" height="1.5" fill="#fff"/>
<rect x="290" y="130.5" width="2" height="1.5" fill="#fff"/>
<rect x="294" y="109" width="2" height="1.5" fill="#fff"/>
<rect x="294" y="130.5" width="2" height="1.5" fill="#fff"/>
<rect x="298" y="109" width="2" height="1.5" fill="#fff"/>
<rect x="298" y="130.5" width="2" height="1.5" fill="#fff"/>
<rect x="302" y="109" width="2" height="1.5" fill="#fff"/>
<rect x="302" y="130.5" width="2" height="1.5" fill="#fff"/>
<rect x="307" y="109" width="2" height="1.5" fill="#fff"/>
<rect x="307" y="130.5" width="2" height="1.5" fill="#fff"/>
<rect x="311" y="109" width="2" height="1.5" fill="#fff"/>
<rect x="311" y="130.5" width="2" height="1.5" fill="#fff"/>
<rect x="315" y="109" width="2" height="1.5" fill="#fff"/>
<rect x="315" y="130.5" width="2" height="1.5" fill="#fff"/>
<rect x="319" y="109" width="2" height="1.5" fill="#fff"/>
<rect x="319" y="130.5" width="2" height="1.5" fill="#fff"/>
<rect x="323" y="109" width="2" height="1.5" fill="#fff"/>
<rect x="323" y="130.5" width="2" height="1.5" fill="#fff"/>
<rect x="328" y="109" width="2" height="1.5" fill="#fff"/>
<rect x="328" y="130.5" width="2" height="1.5" fill="#fff"/>
<rect x="332" y="109" width="2" height="1.5" fill="#fff"/>
<rect x="332" y="130.5" width="2" height="1.5" fill="#fff"/>
<rect x="336" y="109" width="2" height="1.5" fill="#fff"/>
<rect x="336" y="130.5" width="2" height="1.5" fill="#fff"/>
<rect x="340" y="109" width="2" height="1.5" fill="#fff"/>
<rect x="340" y="130.5" width="2" height="1.5" fill="#fff"/>
<rect x="344" y="109" width="2" height="1.5" fill="#fff"/>
<rect x="344" y="130.5" width="2" height="1.5" fill="#fff"/>
<rect x="349" y="109" width="2" height="1.5" fill="#fff"/>
<rect x="349" y="130.5" width="2" height="1.5" fill="#fff"/>
<rect x="353" y="109" width="2" height="1.5" fill="#fff"/>
<rect x="353" y="130.5" width="2" height="1.5" fill="#fff"/>
<rect x="357" y="109" width="2" height="1.5" fill="#fff"/>
<rect x="357" y="130.5" width="2" height="1.5" fill="#fff"/>
<rect x="361" y="109" width="2" height="1.5" fill="#fff"/>
<rect x="361" y="130.5" width="2" height="1.5" fill="#fff"/>
<rect x="365" y="109" width="2" height="1.5" fill="#fff"/>
<rect x="365" y="130.5" width="2" height="1.5" fill="#fff"/>
<rect x="370" y="109" width="2" height="1.5" fill="#fff"/>
<rect x="370" y="130.5" width="2" height="1.5" fill="#fff"/>
<rect x="372" y="118.5" width="2" height="4" fill="#fff"/>
<rect x="271" y="134" width="103" height="24" fill="#000"/>
<rect x="273" y="135" width="2" height="1.5" fill="#fff"/>
<rect x="273" y="155.5" width="2" height="1.5" fill="#fff"/>
<rect x="277" y="135" width="2" height="1.5" fill="#fff"/>
<rect x="277" y="155.5" width="2" height="1.5" fill="#fff"/>
<rect x="281" y="135" width="2" height="1.5" fill="#fff"/>
<rect x="281" y="155.5" width="2" height="1.5" fill="#fff"/>
<rect x="286" y="135" width="2" height="1.5" fill="#fff"/>
<rect x="286" y="155.5" width="2" height="1.5" fill="#fff"/>
<rect x="290" y="135" width="2" height="1.5" fill="#fff"/>
<rect x="290" y="155.5" width="2" height="1.5" fill="#fff"/>
<rect x="294" y="135" width="2" height="1.5" fill="#fff"/>
<rect x="294" y="155.5" width="2" height="1.5" fill="#fff"/>
<rect x="298" y="135" width="2" height="1.5" fill="#fff"/>
<rect x="298" y="155.5" width="2" height="1.5" fill="#fff"/>
<rect x="302" y="135" width="2" height="1.5" fill="#fff"/>
<rect x="302" y="155.5" width="2" height="1.5" fill="#fff"/>
<rect x="307" y="135" width="2" height="1.5" fill="#fff"/>
<rect x="307" y="155.5" width="2" height="1.5" fill="#fff"/>
<rect x="311" y="135" width="2" height="1.5" fill="#fff"/>
<rect x="311" y="155.5" width="2" height="1.5" fill="#fff"/>
<rect x="315" y="135" width="2" height="1.5" fill="#fff"/>
<rect x="315" y="155.5" width="2" height="1.5" fill="#fff"/>
<rect x="319" y="135" width="2" height="1.5" fill="#fff"/>
<rect x="319" y="155.5" width="2" height="1.5" fill="#fff"/>
<rect x="323" y="135" width="2" height="1.5" fill="#fff"/>
<rect x="323" y="155.5" width="2" height="1.5" fill="#fff"/>
<rect x="328" y="135" width="2" height="1.5" fill="#fff"/>
<rect x="328" y="155.5" width="2" height="1.5" fill="#fff"/>
<rect x="332" y="135" width="2" height="1.5" fill="#fff"/>
<rect x="332" y="155.5" width="2" height="1.5" fill="#fff"/>
<rect x="336" y="135" width="2" height="1.5" fill="#fff"/>
<rect x="336" y="155.5" width="2" height="1.5" fill="#fff"/>
<rect x="340" y="135" width="2" height="1.5" fill="#fff"/>
<rect x="340" y="155.5" width="2" height="1.5" fill="#fff"/>
<rect x="344" y="135" width="2" height="1.5" fill="#fff"/>
<rect x="344" y="155.5" width="2" height="1.5" fill="#fff"/>
<rect x="349" y="135" width="2" height="1.5" fill="#fff"/>
<rect x="349" y="155.5" width="2" height="1.5" fill="#fff"/>
<rect x="353" y="135" width="2" height="1.5" fill="#fff"/>
<rect x="353" y="155.5" width="2" height="1.5" fill="#fff"/>
<rect x="357" y="135" width="2" height="1.5" fill="#fff"/>
<rect x="357" y="155.5" width="2" height="1.5" fill="#fff"/>
<rect x="361" y="135" width="2" height="1.5" fill="#fff"/>
<rect x="361" y="155.5" width="2" height="1.5" fill="#fff"/>
<rect x="365" y="135" width="2" height="1.5" fill="#fff"/>
<rect x="365" y="155.5" width="2" height="1.5" fill="#fff"/>
<rect x="370" y="135" width="2" height="1.5" fill="#fff"/>
<rect x="370" y="155.5" width="2" height="1.5" fill="#fff"/>
<rect x="372" y="144" width="2" height="4" fill="#fff"/>
<polygon points="274,127.5 275.5,126 318.5,126 320,127.5 320,138.5 318.5,140 275.5,140 274,138.5" fill="#fff"/>
<text transform="translate(275 136.3) scale(0.85 1)" font-family="Liberation Sans" font-size="12.92"  textLength="51.18" lengthAdjust="spacing" fill="#000">CACHE</text>
<rect x="90" y="352" width="278" height="16" fill="#000"/>
<rect x="91" y="353" width="276" height="14" fill="#fff"/>
<rect x="91" y="357" width="7" height="1" fill="#000"/>
<rect x="91" y="362" width="7" height="1" fill="#000"/>
<rect x="98" y="354" width="4" height="13" fill="#000"/>
<rect x="102" y="356" width="9" height="1" fill="#000"/>
<rect x="110" y="356" width="1" height="8" fill="#000"/>
<rect x="106" y="364" width="5" height="1" fill="#000"/>
<rect x="106" y="361" width="1" height="4" fill="#000"/>
<rect x="102" y="361" width="5" height="1" fill="#000"/>
<rect x="360" y="357" width="7" height="1" fill="#000"/>
<rect x="360" y="362" width="7" height="1" fill="#000"/>
<rect x="356" y="354" width="4" height="13" fill="#000"/>
<rect x="346" y="356" width="9" height="1" fill="#000"/>
<rect x="346" y="356" width="1" height="8" fill="#000"/>
<rect x="346" y="364" width="5" height="1" fill="#000"/>
<rect x="350" y="361" width="1" height="4" fill="#000"/>
<rect x="350" y="361" width="5" height="1" fill="#000"/>
<rect x="113" y="355" width="231" height="11" fill="#000"/>
<rect x="116" y="356" width="1" height="5" fill="#fff"/>
<rect x="119" y="356" width="1" height="5" fill="#fff"/>
<rect x="122" y="356" width="1" height="5" fill="#fff"/>
<rect x="124" y="356" width="1" height="5" fill="#fff"/>
<rect x="127" y="356" width="1" height="5" fill="#fff"/>
<rect x="130" y="356" width="1" height="5" fill="#fff"/>
<rect x="132" y="356" width="1" height="5" fill="#fff"/>
<rect x="135" y="356" width="1" height="5" fill="#fff"/>
<rect x="138" y="356" width="1" height="5" fill="#fff"/>
<rect x="140" y="356" width="1" height="5" fill="#fff"/>
<rect x="143" y="356" width="1" height="5" fill="#fff"/>
<rect x="146" y="356" width="1" height="5" fill="#fff"/>
<rect x="148" y="356" width="1" height="5" fill="#fff"/>
<rect x="151" y="356" width="1" height="5" fill="#fff"/>
<rect x="154" y="356" width="1" height="5" fill="#fff"/>
<rect x="156" y="356" width="1" height="5" fill="#fff"/>
<rect x="159" y="356" width="1" height="5" fill="#fff"/>
<rect x="162" y="356" width="1" height="5" fill="#fff"/>
<rect x="164" y="356" width="1" height="5" fill="#fff"/>
<rect x="167" y="356" width="1" height="5" fill="#fff"/>
<rect x="170" y="356" width="1" height="5" fill="#fff"/>
<rect x="172" y="356" width="1" height="5" fill="#fff"/>
<rect x="175" y="356" width="1" height="5" fill="#fff"/>
<rect x="178" y="356" width="1" height="5" fill="#fff"/>
<rect x="180" y="356" width="1" height="5" fill="#fff"/>
<rect x="183" y="356" width="1" height="5" fill="#fff"/>
<rect x="186" y="356" width="1" height="5" fill="#fff"/>
<rect x="188" y="356" width="1" height="5" fill="#fff"/>
<rect x="191" y="356" width="1" height="5" fill="#fff"/>
<rect x="194" y="356" width="1" height="5" fill="#fff"/>
<rect x="196" y="356" width="1" height="5" fill="#fff"/>
<rect x="199" y="356" width="1" height="5" fill="#fff"/>
<rect x="202" y="356" width="1" height="5" fill="#fff"/>
<rect x="204" y="356" width="1" height="5" fill="#fff"/>
<rect x="207" y="356" width="1" height="5" fill="#fff"/>
<rect x="210" y="356" width="1" height="5" fill="#fff"/>
<rect x="212" y="356" width="1" height="5" fill="#fff"/>
<rect x="215" y="356" width="1" height="5" fill="#fff"/>
<rect x="218" y="356" width="1" height="5" fill="#fff"/>
<rect x="220" y="356" width="1" height="5" fill="#fff"/>
<rect x="223" y="356" width="1" height="5" fill="#fff"/>
<rect x="226" y="356" width="1" height="5" fill="#fff"/>
<rect x="228" y="356" width="1" height="5" fill="#fff"/>
<rect x="231" y="356" width="1" height="5" fill="#fff"/>
<rect x="234" y="356" width="1" height="5" fill="#fff"/>
<rect x="236" y="356" width="1" height="5" fill="#fff"/>
<rect x="239" y="356" width="1" height="5" fill="#fff"/>
<rect x="242" y="356" width="1" height="5" fill="#fff"/>
<rect x="244" y="356" width="1" height="5" fill="#fff"/>
<rect x="247" y="356" width="1" height="5" fill="#fff"/>
<rect x="250" y="356" width="1" height="5" fill="#fff"/>
<rect x="252" y="356" width="1" height="5" fill="#fff"/>
<rect x="255" y="356" width="1" height="5" fill="#fff"/>
<rect x="257" y="356" width="1" height="5" fill="#fff"/>
<rect x="260" y="356" width="1" height="5" fill="#fff"/>
<rect x="263" y="356" width="1" height="5" fill="#fff"/>
<rect x="265" y="356" width="1" height="5" fill="#fff"/>
<rect x="268" y="356" width="1" height="5" fill="#fff"/>
<rect x="271" y="356" width="1" height="5" fill="#fff"/>
<rect x="273" y="356" width="1" height="5" fill="#fff"/>
<rect x="276" y="356" width="1" height="5" fill="#fff"/>
<rect x="279" y="356" width="1" height="5" fill="#fff"/>
<rect x="281" y="356" width="1" height="5" fill="#fff"/>
<rect x="284" y="356" width="1" height="5" fill="#fff"/>
<rect x="287" y="356" width="1" height="5" fill="#fff"/>
<rect x="289" y="356" width="1" height="5" fill="#fff"/>
<rect x="292" y="356" width="1" height="5" fill="#fff"/>
<rect x="295" y="356" width="1" height="5" fill="#fff"/>
<rect x="297" y="356" width="1" height="5" fill="#fff"/>
<rect x="300" y="356" width="1" height="5" fill="#fff"/>
<rect x="303" y="356" width="1" height="5" fill="#fff"/>
<rect x="305" y="356" width="1" height="5" fill="#fff"/>
<rect x="308" y="356" width="1" height="5" fill="#fff"/>
<rect x="311" y="356" width="1" height="5" fill="#fff"/>
<rect x="313" y="356" width="1" height="5" fill="#fff"/>
<rect x="316" y="356" width="1" height="5" fill="#fff"/>
<rect x="319" y="356" width="1" height="5" fill="#fff"/>
<rect x="321" y="356" width="1" height="5" fill="#fff"/>
<rect x="324" y="356" width="1" height="5" fill="#fff"/>
<rect x="327" y="356" width="1" height="5" fill="#fff"/>
<rect x="329" y="356" width="1" height="5" fill="#fff"/>
<rect x="332" y="356" width="1" height="5" fill="#fff"/>
<rect x="335" y="356" width="1" height="5" fill="#fff"/>
<rect x="337" y="356" width="1" height="5" fill="#fff"/>
<rect x="340" y="356" width="1" height="5" fill="#fff"/>
<rect x="224" y="355" width="9" height="4" fill="#fff"/>
<rect x="224" y="362" width="10" height="4" fill="#fff"/>
<rect x="90" y="369" width="278" height="16" fill="#000"/>
<rect x="91" y="370" width="276" height="14" fill="#fff"/>
<rect x="91" y="374" width="7" height="1" fill="#000"/>
<rect x="91" y="379" width="7" height="1" fill="#000"/>
<rect x="98" y="371" width="4" height="13" fill="#000"/>
<rect x="102" y="373" width="9" height="1" fill="#000"/>
<rect x="110" y="373" width="1" height="8" fill="#000"/>
<rect x="106" y="381" width="5" height="1" fill="#000"/>
<rect x="106" y="378" width="1" height="4" fill="#000"/>
<rect x="102" y="378" width="5" height="1" fill="#000"/>
<rect x="360" y="374" width="7" height="1" fill="#000"/>
<rect x="360" y="379" width="7" height="1" fill="#000"/>
<rect x="356" y="371" width="4" height="13" fill="#000"/>
<rect x="346" y="373" width="9" height="1" fill="#000"/>
<rect x="346" y="373" width="1" height="8" fill="#000"/>
<rect x="346" y="381" width="5" height="1" fill="#000"/>
<rect x="350" y="378" width="1" height="4" fill="#000"/>
<rect x="350" y="378" width="5" height="1" fill="#000"/>
<rect x="113" y="372" width="231" height="11" fill="#000"/>
<rect x="116" y="373" width="1" height="5" fill="#fff"/>
<rect x="119" y="373" width="1" height="5" fill="#fff"/>
<rect x="122" y="373" width="1" height="5" fill="#fff"/>
<rect x="124" y="373" width="1" height="5" fill="#fff"/>
<rect x="127" y="373" width="1" height="5" fill="#fff"/>
<rect x="130" y="373" width="1" height="5" fill="#fff"/>
<rect x="132" y="373" width="1" height="5" fill="#fff"/>
<rect x="135" y="373" width="1" height="5" fill="#fff"/>
<rect x="138" y="373" width="1" height="5" fill="#fff"/>
<rect x="140" y="373" width="1" height="5" fill="#fff"/>
<rect x="143" y="373" width="1" height="5" fill="#fff"/>
<rect x="146" y="373" width="1" height="5" fill="#fff"/>
<rect x="148" y="373" width="1" height="5" fill="#fff"/>
<rect x="151" y="373" width="1" height="5" fill="#fff"/>
<rect x="154" y="373" width="1" height="5" fill="#fff"/>
<rect x="156" y="373" width="1" height="5" fill="#fff"/>
<rect x="159" y="373" width="1" height="5" fill="#fff"/>
<rect x="162" y="373" width="1" height="5" fill="#fff"/>
<rect x="164" y="373" width="1" height="5" fill="#fff"/>
<rect x="167" y="373" width="1" height="5" fill="#fff"/>
<rect x="170" y="373" width="1" height="5" fill="#fff"/>
<rect x="172" y="373" width="1" height="5" fill="#fff"/>
<rect x="175" y="373" width="1" height="5" fill="#fff"/>
<rect x="178" y="373" width="1" height="5" fill="#fff"/>
<rect x="180" y="373" width="1" height="5" fill="#fff"/>
<rect x="183" y="373" width="1" height="5" fill="#fff"/>
<rect x="186" y="373" width="1" height="5" fill="#fff"/>
<rect x="188" y="373" width="1" height="5" fill="#fff"/>
<rect x="191" y="373" width="1" height="5" fill="#fff"/>
<rect x="194" y="373" width="1" height="5" fill="#fff"/>
<rect x="196" y="373" width="1" height="5" fill="#fff"/>
<rect x="199" y="373" width="1" height="5" fill="#fff"/>
<rect x="202" y="373" width="1" height="5" fill="#fff"/>
<rect x="204" y="373" width="1" height="5" fill="#fff"/>
<rect x="207" y="373" width="1" height="5" fill="#fff"/>
<rect x="210" y="373" width="1" height="5" fill="#fff"/>
<rect x="212" y="373" width="1" height="5" fill="#fff"/>
<rect x="215" y="373" width="1" height="5" fill="#fff"/>
<rect x="218" y="373" width="1" height="5" fill="#fff"/>
<rect x="220" y="373" width="1" height="5" fill="#fff"/>
<rect x="223" y="373" width="1" height="5" fill="#fff"/>
<rect x="226" y="373" width="1" height="5" fill="#fff"/>
<rect x="228" y="373" width="1" height="5" fill="#fff"/>
<rect x="231" y="373" width="1" height="5" fill="#fff"/>
<rect x="234" y="373" width="1" height="5" fill="#fff"/>
<rect x="236" y="373" width="1" height="5" fill="#fff"/>
<rect x="239" y="373" width="1" height="5" fill="#fff"/>
<rect x="242" y="373" width="1" height="5" fill="#fff"/>
<rect x="244" y="373" width="1" height="5" fill="#fff"/>
<rect x="247" y="373" width="1" height="5" fill="#fff"/>
<rect x="250" y="373" width="1" height="5" fill="#fff"/>
<rect x="252" y="373" width="1" height="5" fill="#fff"/>
<rect x="255" y="373" width="1" height="5" fill="#fff"/>
<rect x="257" y="373" width="1" height="5" fill="#fff"/>
<rect x="260" y="373" width="1" height="5" fill="#fff"/>
<rect x="263" y="373" width="1" height="5" fill="#fff"/>
<rect x="265" y="373" width="1" height="5" fill="#fff"/>
<rect x="268" y="373" width="1" height="5" fill="#fff"/>
<rect x="271" y="373" width="1" height="5" fill="#fff"/>
<rect x="273" y="373" width="1" height="5" fill="#fff"/>
<rect x="276" y="373" width="1" height="5" fill="#fff"/>
<rect x="279" y="373" width="1" height="5" fill="#fff"/>
<rect x="281" y="373" width="1" height="5" fill="#fff"/>
<rect x="284" y="373" width="1" height="5" fill="#fff"/>
<rect x="287" y="373" width="1" height="5" fill="#fff"/>
<rect x="289" y="373" width="1" height="5" fill="#fff"/>
<rect x="292" y="373" width="1" height="5" fill="#fff"/>
<rect x="295" y="373" width="1" height="5" fill="#fff"/>
<rect x="297" y="373" width="1" height="5" fill="#fff"/>
<rect x="300" y="373" width="1" height="5" fill="#fff"/>
<rect x="303" y="373" width="1" height="5" fill="#fff"/>
<rect x="305" y="373" width="1" height="5" fill="#fff"/>
<rect x="308" y="373" width="1" height="5" fill="#fff"/>
<rect x="311" y="373" width="1" height="5" fill="#fff"/>
<rect x="313" y="373" width="1" height="5" fill="#fff"/>
<rect x="316" y="373" width="1" height="5" fill="#fff"/>
<rect x="319" y="373" width="1" height="5" fill="#fff"/>
<rect x="321" y="373" width="1" height="5" fill="#fff"/>
<rect x="324" y="373" width="1" height="5" fill="#fff"/>
<rect x="327" y="373" width="1" height="5" fill="#fff"/>
<rect x="329" y="373" width="1" height="5" fill="#fff"/>
<rect x="332" y="373" width="1" height="5" fill="#fff"/>
<rect x="335" y="373" width="1" height="5" fill="#fff"/>
<rect x="337" y="373" width="1" height="5" fill="#fff"/>
<rect x="340" y="373" width="1" height="5" fill="#fff"/>
<rect x="224" y="372" width="9" height="4" fill="#fff"/>
<rect x="224" y="379" width="10" height="4" fill="#fff"/>
<rect x="90" y="386" width="278" height="16" fill="#000"/>
<rect x="91" y="387" width="276" height="14" fill="#fff"/>
<rect x="91" y="391" width="7" height="1" fill="#000"/>
<rect x="91" y="396" width="7" height="1" fill="#000"/>
<rect x="98" y="388" width="4" height="13" fill="#000"/>
<rect x="102" y="390" width="9" height="1" fill="#000"/>
<rect x="110" y="390" width="1" height="8" fill="#000"/>
<rect x="106" y="398" width="5" height="1" fill="#000"/>
<rect x="106" y="395" width="1" height="4" fill="#000"/>
<rect x="102" y="395" width="5" height="1" fill="#000"/>
<rect x="360" y="391" width="7" height="1" fill="#000"/>
<rect x="360" y="396" width="7" height="1" fill="#000"/>
<rect x="356" y="388" width="4" height="13" fill="#000"/>
<rect x="346" y="390" width="9" height="1" fill="#000"/>
<rect x="346" y="390" width="1" height="8" fill="#000"/>
<rect x="346" y="398" width="5" height="1" fill="#000"/>
<rect x="350" y="395" width="1" height="4" fill="#000"/>
<rect x="350" y="395" width="5" height="1" fill="#000"/>
<rect x="113" y="389" width="231" height="11" fill="#000"/>
<rect x="116" y="390" width="1" height="5" fill="#fff"/>
<rect x="119" y="390" width="1" height="5" fill="#fff"/>
<rect x="122" y="390" width="1" height="5" fill="#fff"/>
<rect x="124" y="390" width="1" height="5" fill="#fff"/>
<rect x="127" y="390" width="1" height="5" fill="#fff"/>
<rect x="130" y="390" width="1" height="5" fill="#fff"/>
<rect x="132" y="390" width="1" height="5" fill="#fff"/>
<rect x="135" y="390" width="1" height="5" fill="#fff"/>
<rect x="138" y="390" width="1" height="5" fill="#fff"/>
<rect x="140" y="390" width="1" height="5" fill="#fff"/>
<rect x="143" y="390" width="1" height="5" fill="#fff"/>
<rect x="146" y="390" width="1" height="5" fill="#fff"/>
<rect x="148" y="390" width="1" height="5" fill="#fff"/>
<rect x="151" y="390" width="1" height="5" fill="#fff"/>
<rect x="154" y="390" width="1" height="5" fill="#fff"/>
<rect x="156" y="390" width="1" height="5" fill="#fff"/>
<rect x="159" y="390" width="1" height="5" fill="#fff"/>
<rect x="162" y="390" width="1" height="5" fill="#fff"/>
<rect x="164" y="390" width="1" height="5" fill="#fff"/>
<rect x="167" y="390" width="1" height="5" fill="#fff"/>
<rect x="170" y="390" width="1" height="5" fill="#fff"/>
<rect x="172" y="390" width="1" height="5" fill="#fff"/>
<rect x="175" y="390" width="1" height="5" fill="#fff"/>
<rect x="178" y="390" width="1" height="5" fill="#fff"/>
<rect x="180" y="390" width="1" height="5" fill="#fff"/>
<rect x="183" y="390" width="1" height="5" fill="#fff"/>
<rect x="186" y="390" width="1" height="5" fill="#fff"/>
<rect x="188" y="390" width="1" height="5" fill="#fff"/>
<rect x="191" y="390" width="1" height="5" fill="#fff"/>
<rect x="194" y="390" width="1" height="5" fill="#fff"/>
<rect x="196" y="390" width="1" height="5" fill="#fff"/>
<rect x="199" y="390" width="1" height="5" fill="#fff"/>
<rect x="202" y="390" width="1" height="5" fill="#fff"/>
<rect x="204" y="390" width="1" height="5" fill="#fff"/>
<rect x="207" y="390" width="1" height="5" fill="#fff"/>
<rect x="210" y="390" width="1" height="5" fill="#fff"/>
<rect x="212" y="390" width="1" height="5" fill="#fff"/>
<rect x="215" y="390" width="1" height="5" fill="#fff"/>
<rect x="218" y="390" width="1" height="5" fill="#fff"/>
<rect x="220" y="390" width="1" height="5" fill="#fff"/>
<rect x="223" y="390" width="1" height="5" fill="#fff"/>
<rect x="226" y="390" width="1" height="5" fill="#fff"/>
<rect x="228" y="390" width="1" height="5" fill="#fff"/>
<rect x="231" y="390" width="1" height="5" fill="#fff"/>
<rect x="234" y="390" width="1" height="5" fill="#fff"/>
<rect x="236" y="390" width="1" height="5" fill="#fff"/>
<rect x="239" y="390" width="1" height="5" fill="#fff"/>
<rect x="242" y="390" width="1" height="5" fill="#fff"/>
<rect x="244" y="390" width="1" height="5" fill="#fff"/>
<rect x="247" y="390" width="1" height="5" fill="#fff"/>
<rect x="250" y="390" width="1" height="5" fill="#fff"/>
<rect x="252" y="390" width="1" height="5" fill="#fff"/>
<rect x="255" y="390" width="1" height="5" fill="#fff"/>
<rect x="257" y="390" width="1" height="5" fill="#fff"/>
<rect x="260" y="390" width="1" height="5" fill="#fff"/>
<rect x="263" y="390" width="1" height="5" fill="#fff"/>
<rect x="265" y="390" width="1" height="5" fill="#fff"/>
<rect x="268" y="390" width="1" height="5" fill="#fff"/>
<rect x="271" y="390" width="1" height="5" fill="#fff"/>
<rect x="273" y="390" width="1" height="5" fill="#fff"/>
<rect x="276" y="390" width="1" height="5" fill="#fff"/>
<rect x="279" y="390" width="1" height="5" fill="#fff"/>
<rect x="281" y="390" width="1" height="5" fill="#fff"/>
<rect x="284" y="390" width="1" height="5" fill="#fff"/>
<rect x="287" y="390" width="1" height="5" fill="#fff"/>
<rect x="289" y="390" width="1" height="5" fill="#fff"/>
<rect x="292" y="390" width="1" height="5" fill="#fff"/>
<rect x="295" y="390" width="1" height="5" fill="#fff"/>
<rect x="297" y="390" width="1" height="5" fill="#fff"/>
<rect x="300" y="390" width="1" height="5" fill="#fff"/>
<rect x="303" y="390" width="1" height="5" fill="#fff"/>
<rect x="305" y="390" width="1" height="5" fill="#fff"/>
<rect x="308" y="390" width="1" height="5" fill="#fff"/>
<rect x="311" y="390" width="1" height="5" fill="#fff"/>
<rect x="313" y="390" width="1" height="5" fill="#fff"/>
<rect x="316" y="390" width="1" height="5" fill="#fff"/>
<rect x="319" y="390" width="1" height="5" fill="#fff"/>
<rect x="321" y="390" width="1" height="5" fill="#fff"/>
<rect x="324" y="390" width="1" height="5" fill="#fff"/>
<rect x="327" y="390" width="1" height="5" fill="#fff"/>
<rect x="329" y="390" width="1" height="5" fill="#fff"/>
<rect x="332" y="390" width="1" height="5" fill="#fff"/>
<rect x="335" y="390" width="1" height="5" fill="#fff"/>
<rect x="337" y="390" width="1" height="5" fill="#fff"/>
<rect x="340" y="390" width="1" height="5" fill="#fff"/>
<rect x="224" y="389" width="9" height="4" fill="#fff"/>
<rect x="224" y="396" width="10" height="4" fill="#fff"/>
<rect x="90" y="403" width="278" height="16" fill="#000"/>
<rect x="91" y="404" width="276" height="14" fill="#fff"/>
<rect x="91" y="408" width="7" height="1" fill="#000"/>
<rect x="91" y="413" width="7" height="1" fill="#000"/>
<rect x="98" y="405" width="4" height="13" fill="#000"/>
<rect x="102" y="407" width="9" height="1" fill="#000"/>
<rect x="110" y="407" width="1" height="8" fill="#000"/>
<rect x="106" y="415" width="5" height="1" fill="#000"/>
<rect x="106" y="412" width="1" height="4" fill="#000"/>
<rect x="102" y="412" width="5" height="1" fill="#000"/>
<rect x="360" y="408" width="7" height="1" fill="#000"/>
<rect x="360" y="413" width="7" height="1" fill="#000"/>
<rect x="356" y="405" width="4" height="13" fill="#000"/>
<rect x="346" y="407" width="9" height="1" fill="#000"/>
<rect x="346" y="407" width="1" height="8" fill="#000"/>
<rect x="346" y="415" width="5" height="1" fill="#000"/>
<rect x="350" y="412" width="1" height="4" fill="#000"/>
<rect x="350" y="412" width="5" height="1" fill="#000"/>
<rect x="113" y="406" width="231" height="11" fill="#000"/>
<rect x="116" y="407" width="1" height="5" fill="#fff"/>
<rect x="119" y="407" width="1" height="5" fill="#fff"/>
<rect x="122" y="407" width="1" height="5" fill="#fff"/>
<rect x="124" y="407" width="1" height="5" fill="#fff"/>
<rect x="127" y="407" width="1" height="5" fill="#fff"/>
<rect x="130" y="407" width="1" height="5" fill="#fff"/>
<rect x="132" y="407" width="1" height="5" fill="#fff"/>
<rect x="135" y="407" width="1" height="5" fill="#fff"/>
<rect x="138" y="407" width="1" height="5" fill="#fff"/>
<rect x="140" y="407" width="1" height="5" fill="#fff"/>
<rect x="143" y="407" width="1" height="5" fill="#fff"/>
<rect x="146" y="407" width="1" height="5" fill="#fff"/>
<rect x="148" y="407" width="1" height="5" fill="#fff"/>
<rect x="151" y="407" width="1" height="5" fill="#fff"/>
<rect x="154" y="407" width="1" height="5" fill="#fff"/>
<rect x="156" y="407" width="1" height="5" fill="#fff"/>
<rect x="159" y="407" width="1" height="5" fill="#fff"/>
<rect x="162" y="407" width="1" height="5" fill="#fff"/>
<rect x="164" y="407" width="1" height="5" fill="#fff"/>
<rect x="167" y="407" width="1" height="5" fill="#fff"/>
<rect x="170" y="407" width="1" height="5" fill="#fff"/>
<rect x="172" y="407" width="1" height="5" fill="#fff"/>
<rect x="175" y="407" width="1" height="5" fill="#fff"/>
<rect x="178" y="407" width="1" height="5" fill="#fff"/>
<rect x="180" y="407" width="1" height="5" fill="#fff"/>
<rect x="183" y="407" width="1" height="5" fill="#fff"/>
<rect x="186" y="407" width="1" height="5" fill="#fff"/>
<rect x="188" y="407" width="1" height="5" fill="#fff"/>
<rect x="191" y="407" width="1" height="5" fill="#fff"/>
<rect x="194" y="407" width="1" height="5" fill="#fff"/>
<rect x="196" y="407" width="1" height="5" fill="#fff"/>
<rect x="199" y="407" width="1" height="5" fill="#fff"/>
<rect x="202" y="407" width="1" height="5" fill="#fff"/>
<rect x="204" y="407" width="1" height="5" fill="#fff"/>
<rect x="207" y="407" width="1" height="5" fill="#fff"/>
<rect x="210" y="407" width="1" height="5" fill="#fff"/>
<rect x="212" y="407" width="1" height="5" fill="#fff"/>
<rect x="215" y="407" width="1" height="5" fill="#fff"/>
<rect x="218" y="407" width="1" height="5" fill="#fff"/>
<rect x="220" y="407" width="1" height="5" fill="#fff"/>
<rect x="223" y="407" width="1" height="5" fill="#fff"/>
<rect x="226" y="407" width="1" height="5" fill="#fff"/>
<rect x="228" y="407" width="1" height="5" fill="#fff"/>
<rect x="231" y="407" width="1" height="5" fill="#fff"/>
<rect x="234" y="407" width="1" height="5" fill="#fff"/>
<rect x="236" y="407" width="1" height="5" fill="#fff"/>
<rect x="239" y="407" width="1" height="5" fill="#fff"/>
<rect x="242" y="407" width="1" height="5" fill="#fff"/>
<rect x="244" y="407" width="1" height="5" fill="#fff"/>
<rect x="247" y="407" width="1" height="5" fill="#fff"/>
<rect x="250" y="407" width="1" height="5" fill="#fff"/>
<rect x="252" y="407" width="1" height="5" fill="#fff"/>
<rect x="255" y="407" width="1" height="5" fill="#fff"/>
<rect x="257" y="407" width="1" height="5" fill="#fff"/>
<rect x="260" y="407" width="1" height="5" fill="#fff"/>
<rect x="263" y="407" width="1" height="5" fill="#fff"/>
<rect x="265" y="407" width="1" height="5" fill="#fff"/>
<rect x="268" y="407" width="1" height="5" fill="#fff"/>
<rect x="271" y="407" width="1" height="5" fill="#fff"/>
<rect x="273" y="407" width="1" height="5" fill="#fff"/>
<rect x="276" y="407" width="1" height="5" fill="#fff"/>
<rect x="279" y="407" width="1" height="5" fill="#fff"/>
<rect x="281" y="407" width="1" height="5" fill="#fff"/>
<rect x="284" y="407" width="1" height="5" fill="#fff"/>
<rect x="287" y="407" width="1" height="5" fill="#fff"/>
<rect x="289" y="407" width="1" height="5" fill="#fff"/>
<rect x="292" y="407" width="1" height="5" fill="#fff"/>
<rect x="295" y="407" width="1" height="5" fill="#fff"/>
<rect x="297" y="407" width="1" height="5" fill="#fff"/>
<rect x="300" y="407" width="1" height="5" fill="#fff"/>
<rect x="303" y="407" width="1" height="5" fill="#fff"/>
<rect x="305" y="407" width="1" height="5" fill="#fff"/>
<rect x="308" y="407" width="1" height="5" fill="#fff"/>
<rect x="311" y="407" width="1" height="5" fill="#fff"/>
<rect x="313" y="407" width="1" height="5" fill="#fff"/>
<rect x="316" y="407" width="1" height="5" fill="#fff"/>
<rect x="319" y="407" width="1" height="5" fill="#fff"/>
<rect x="321" y="407" width="1" height="5" fill="#fff"/>
<rect x="324" y="407" width="1" height="5" fill="#fff"/>
<rect x="327" y="407" width="1" height="5" fill="#fff"/>
<rect x="329" y="407" width="1" height="5" fill="#fff"/>
<rect x="332" y="407" width="1" height="5" fill="#fff"/>
<rect x="335" y="407" width="1" height="5" fill="#fff"/>
<rect x="337" y="407" width="1" height="5" fill="#fff"/>
<rect x="340" y="407" width="1" height="5" fill="#fff"/>
<rect x="224" y="406" width="9" height="4" fill="#fff"/>
<rect x="224" y="413" width="10" height="4" fill="#fff"/>
<polygon points="201,363.5 202.5,362 255.5,362 257,363.5 257,374.5 255.5,376 202.5,376 201,374.5" fill="#fff"/>
<text transform="translate(206 373) scale(0.85 1)" font-family="Liberation Sans" font-size="12.50"  textLength="54.12" lengthAdjust="spacing" fill="#000">BANK 2</text>
<polygon points="201,396.5 202.5,395 255.5,395 257,396.5 257,407.5 255.5,409 202.5,409 201,407.5" fill="#fff"/>
<text transform="translate(206 406) scale(0.85 1)" font-family="Liberation Sans" font-size="12.50"  textLength="54.12" lengthAdjust="spacing" fill="#000">BANK 1</text>
<rect x="90" y="434" width="209" height="101" fill="#000"/>
<rect x="141" y="434" width="1" height="101" fill="#fff"/>
<rect x="194" y="434" width="1" height="101" fill="#fff"/>
<rect x="247" y="434" width="1" height="101" fill="#fff"/>
<rect x="91" y="435" width="2" height="1" fill="#fff"/>
<rect x="95" y="435" width="2" height="1" fill="#fff"/>
<rect x="99" y="435" width="2" height="1" fill="#fff"/>
<rect x="104" y="435" width="2" height="1" fill="#fff"/>
<rect x="108" y="435" width="2" height="1" fill="#fff"/>
<rect x="112" y="435" width="2" height="1" fill="#fff"/>
<rect x="116" y="435" width="2" height="1" fill="#fff"/>
<rect x="120" y="435" width="2" height="1" fill="#fff"/>
<rect x="125" y="435" width="2" height="1" fill="#fff"/>
<rect x="129" y="435" width="2" height="1" fill="#fff"/>
<rect x="133" y="435" width="2" height="1" fill="#fff"/>
<rect x="137" y="435" width="2" height="1" fill="#fff"/>
<rect x="141" y="435" width="2" height="1" fill="#fff"/>
<rect x="146" y="435" width="2" height="1" fill="#fff"/>
<rect x="150" y="435" width="2" height="1" fill="#fff"/>
<rect x="154" y="435" width="2" height="1" fill="#fff"/>
<rect x="158" y="435" width="2" height="1" fill="#fff"/>
<rect x="162" y="435" width="2" height="1" fill="#fff"/>
<rect x="167" y="435" width="2" height="1" fill="#fff"/>
<rect x="171" y="435" width="2" height="1" fill="#fff"/>
<rect x="175" y="435" width="2" height="1" fill="#fff"/>
<rect x="179" y="435" width="2" height="1" fill="#fff"/>
<rect x="183" y="435" width="2" height="1" fill="#fff"/>
<rect x="188" y="435" width="2" height="1" fill="#fff"/>
<rect x="192" y="435" width="2" height="1" fill="#fff"/>
<rect x="196" y="435" width="2" height="1" fill="#fff"/>
<rect x="200" y="435" width="2" height="1" fill="#fff"/>
<rect x="204" y="435" width="2" height="1" fill="#fff"/>
<rect x="209" y="435" width="2" height="1" fill="#fff"/>
<rect x="213" y="435" width="2" height="1" fill="#fff"/>
<rect x="217" y="435" width="2" height="1" fill="#fff"/>
<rect x="221" y="435" width="2" height="1" fill="#fff"/>
<rect x="225" y="435" width="2" height="1" fill="#fff"/>
<rect x="230" y="435" width="2" height="1" fill="#fff"/>
<rect x="234" y="435" width="2" height="1" fill="#fff"/>
<rect x="238" y="435" width="2" height="1" fill="#fff"/>
<rect x="242" y="435" width="2" height="1" fill="#fff"/>
<rect x="246" y="435" width="2" height="1" fill="#fff"/>
<rect x="251" y="435" width="2" height="1" fill="#fff"/>
<rect x="255" y="435" width="2" height="1" fill="#fff"/>
<rect x="259" y="435" width="2" height="1" fill="#fff"/>
<rect x="263" y="435" width="2" height="1" fill="#fff"/>
<rect x="267" y="435" width="2" height="1" fill="#fff"/>
<rect x="272" y="435" width="2" height="1" fill="#fff"/>
<rect x="276" y="435" width="2" height="1" fill="#fff"/>
<rect x="280" y="435" width="2" height="1" fill="#fff"/>
<rect x="284" y="435" width="2" height="1" fill="#fff"/>
<rect x="288" y="435" width="2" height="1" fill="#fff"/>
<rect x="293" y="435" width="2" height="1" fill="#fff"/>
<rect x="91" y="460" width="2" height="1.5" fill="#fff"/>
<rect x="95" y="460" width="2" height="1.5" fill="#fff"/>
<rect x="99" y="460" width="2" height="1.5" fill="#fff"/>
<rect x="104" y="460" width="2" height="1.5" fill="#fff"/>
<rect x="108" y="460" width="2" height="1.5" fill="#fff"/>
<rect x="112" y="460" width="2" height="1.5" fill="#fff"/>
<rect x="116" y="460" width="2" height="1.5" fill="#fff"/>
<rect x="120" y="460" width="2" height="1.5" fill="#fff"/>
<rect x="125" y="460" width="2" height="1.5" fill="#fff"/>
<rect x="129" y="460" width="2" height="1.5" fill="#fff"/>
<rect x="133" y="460" width="2" height="1.5" fill="#fff"/>
<rect x="137" y="460" width="2" height="1.5" fill="#fff"/>
<rect x="141" y="460" width="2" height="1.5" fill="#fff"/>
<rect x="146" y="460" width="2" height="1.5" fill="#fff"/>
<rect x="150" y="460" width="2" height="1.5" fill="#fff"/>
<rect x="154" y="460" width="2" height="1.5" fill="#fff"/>
<rect x="158" y="460" width="2" height="1.5" fill="#fff"/>
<rect x="162" y="460" width="2" height="1.5" fill="#fff"/>
<rect x="167" y="460" width="2" height="1.5" fill="#fff"/>
<rect x="171" y="460" width="2" height="1.5" fill="#fff"/>
<rect x="175" y="460" width="2" height="1.5" fill="#fff"/>
<rect x="179" y="460" width="2" height="1.5" fill="#fff"/>
<rect x="183" y="460" width="2" height="1.5" fill="#fff"/>
<rect x="188" y="460" width="2" height="1.5" fill="#fff"/>
<rect x="192" y="460" width="2" height="1.5" fill="#fff"/>
<rect x="196" y="460" width="2" height="1.5" fill="#fff"/>
<rect x="200" y="460" width="2" height="1.5" fill="#fff"/>
<rect x="204" y="460" width="2" height="1.5" fill="#fff"/>
<rect x="209" y="460" width="2" height="1.5" fill="#fff"/>
<rect x="213" y="460" width="2" height="1.5" fill="#fff"/>
<rect x="217" y="460" width="2" height="1.5" fill="#fff"/>
<rect x="221" y="460" width="2" height="1.5" fill="#fff"/>
<rect x="225" y="460" width="2" height="1.5" fill="#fff"/>
<rect x="230" y="460" width="2" height="1.5" fill="#fff"/>
<rect x="234" y="460" width="2" height="1.5" fill="#fff"/>
<rect x="238" y="460" width="2" height="1.5" fill="#fff"/>
<rect x="242" y="460" width="2" height="1.5" fill="#fff"/>
<rect x="246" y="460" width="2" height="1.5" fill="#fff"/>
<rect x="251" y="460" width="2" height="1.5" fill="#fff"/>
<rect x="255" y="460" width="2" height="1.5" fill="#fff"/>
<rect x="259" y="460" width="2" height="1.5" fill="#fff"/>
<rect x="263" y="460" width="2" height="1.5" fill="#fff"/>
<rect x="267" y="460" width="2" height="1.5" fill="#fff"/>
<rect x="272" y="460" width="2" height="1.5" fill="#fff"/>
<rect x="276" y="460" width="2" height="1.5" fill="#fff"/>
<rect x="280" y="460" width="2" height="1.5" fill="#fff"/>
<rect x="284" y="460" width="2" height="1.5" fill="#fff"/>
<rect x="288" y="460" width="2" height="1.5" fill="#fff"/>
<rect x="293" y="460" width="2" height="1.5" fill="#fff"/>
<rect x="91" y="485" width="1" height="2" fill="#fff"/>
<rect x="96" y="485" width="1" height="2" fill="#fff"/>
<rect x="101" y="485" width="1" height="2" fill="#fff"/>
<rect x="107" y="485" width="1" height="2" fill="#fff"/>
<rect x="112" y="485" width="1" height="2" fill="#fff"/>
<rect x="117" y="485" width="1" height="2" fill="#fff"/>
<rect x="122" y="485" width="1" height="2" fill="#fff"/>
<rect x="127" y="485" width="1" height="2" fill="#fff"/>
<rect x="133" y="485" width="1" height="2" fill="#fff"/>
<rect x="138" y="485" width="1" height="2" fill="#fff"/>
<rect x="143" y="485" width="1" height="2" fill="#fff"/>
<rect x="148" y="485" width="1" height="2" fill="#fff"/>
<rect x="153" y="485" width="1" height="2" fill="#fff"/>
<rect x="159" y="485" width="1" height="2" fill="#fff"/>
<rect x="164" y="485" width="1" height="2" fill="#fff"/>
<rect x="169" y="485" width="1" height="2" fill="#fff"/>
<rect x="174" y="485" width="1" height="2" fill="#fff"/>
<rect x="179" y="485" width="1" height="2" fill="#fff"/>
<rect x="185" y="485" width="1" height="2" fill="#fff"/>
<rect x="190" y="485" width="1" height="2" fill="#fff"/>
<rect x="195" y="485" width="1" height="2" fill="#fff"/>
<rect x="200" y="485" width="1" height="2" fill="#fff"/>
<rect x="205" y="485" width="1" height="2" fill="#fff"/>
<rect x="211" y="485" width="1" height="2" fill="#fff"/>
<rect x="216" y="485" width="1" height="2" fill="#fff"/>
<rect x="221" y="485" width="1" height="2" fill="#fff"/>
<rect x="226" y="485" width="1" height="2" fill="#fff"/>
<rect x="231" y="485" width="1" height="2" fill="#fff"/>
<rect x="237" y="485" width="1" height="2" fill="#fff"/>
<rect x="242" y="485" width="1" height="2" fill="#fff"/>
<rect x="247" y="485" width="1" height="2" fill="#fff"/>
<rect x="252" y="485" width="1" height="2" fill="#fff"/>
<rect x="257" y="485" width="1" height="2" fill="#fff"/>
<rect x="263" y="485" width="1" height="2" fill="#fff"/>
<rect x="268" y="485" width="1" height="2" fill="#fff"/>
<rect x="273" y="485" width="1" height="2" fill="#fff"/>
<rect x="278" y="485" width="1" height="2" fill="#fff"/>
<rect x="283" y="485" width="1" height="2" fill="#fff"/>
<rect x="289" y="485" width="1" height="2" fill="#fff"/>
<rect x="91" y="509.5" width="2" height="1.5" fill="#fff"/>
<rect x="95" y="509.5" width="2" height="1.5" fill="#fff"/>
<rect x="99" y="509.5" width="2" height="1.5" fill="#fff"/>
<rect x="104" y="509.5" width="2" height="1.5" fill="#fff"/>
<rect x="108" y="509.5" width="2" height="1.5" fill="#fff"/>
<rect x="112" y="509.5" width="2" height="1.5" fill="#fff"/>
<rect x="116" y="509.5" width="2" height="1.5" fill="#fff"/>
<rect x="120" y="509.5" width="2" height="1.5" fill="#fff"/>
<rect x="125" y="509.5" width="2" height="1.5" fill="#fff"/>
<rect x="129" y="509.5" width="2" height="1.5" fill="#fff"/>
<rect x="133" y="509.5" width="2" height="1.5" fill="#fff"/>
<rect x="137" y="509.5" width="2" height="1.5" fill="#fff"/>
<rect x="141" y="509.5" width="2" height="1.5" fill="#fff"/>
<rect x="146" y="509.5" width="2" height="1.5" fill="#fff"/>
<rect x="150" y="509.5" width="2" height="1.5" fill="#fff"/>
<rect x="154" y="509.5" width="2" height="1.5" fill="#fff"/>
<rect x="158" y="509.5" width="2" height="1.5" fill="#fff"/>
<rect x="162" y="509.5" width="2" height="1.5" fill="#fff"/>
<rect x="167" y="509.5" width="2" height="1.5" fill="#fff"/>
<rect x="171" y="509.5" width="2" height="1.5" fill="#fff"/>
<rect x="175" y="509.5" width="2" height="1.5" fill="#fff"/>
<rect x="179" y="509.5" width="2" height="1.5" fill="#fff"/>
<rect x="183" y="509.5" width="2" height="1.5" fill="#fff"/>
<rect x="188" y="509.5" width="2" height="1.5" fill="#fff"/>
<rect x="192" y="509.5" width="2" height="1.5" fill="#fff"/>
<rect x="196" y="509.5" width="2" height="1.5" fill="#fff"/>
<rect x="200" y="509.5" width="2" height="1.5" fill="#fff"/>
<rect x="204" y="509.5" width="2" height="1.5" fill="#fff"/>
<rect x="209" y="509.5" width="2" height="1.5" fill="#fff"/>
<rect x="213" y="509.5" width="2" height="1.5" fill="#fff"/>
<rect x="217" y="509.5" width="2" height="1.5" fill="#fff"/>
<rect x="221" y="509.5" width="2" height="1.5" fill="#fff"/>
<rect x="225" y="509.5" width="2" height="1.5" fill="#fff"/>
<rect x="230" y="509.5" width="2" height="1.5" fill="#fff"/>
<rect x="234" y="509.5" width="2" height="1.5" fill="#fff"/>
<rect x="238" y="509.5" width="2" height="1.5" fill="#fff"/>
<rect x="242" y="509.5" width="2" height="1.5" fill="#fff"/>
<rect x="246" y="509.5" width="2" height="1.5" fill="#fff"/>
<rect x="251" y="509.5" width="2" height="1.5" fill="#fff"/>
<rect x="255" y="509.5" width="2" height="1.5" fill="#fff"/>
<rect x="259" y="509.5" width="2" height="1.5" fill="#fff"/>
<rect x="263" y="509.5" width="2" height="1.5" fill="#fff"/>
<rect x="267" y="509.5" width="2" height="1.5" fill="#fff"/>
<rect x="272" y="509.5" width="2" height="1.5" fill="#fff"/>
<rect x="276" y="509.5" width="2" height="1.5" fill="#fff"/>
<rect x="280" y="509.5" width="2" height="1.5" fill="#fff"/>
<rect x="284" y="509.5" width="2" height="1.5" fill="#fff"/>
<rect x="288" y="509.5" width="2" height="1.5" fill="#fff"/>
<rect x="293" y="509.5" width="2" height="1.5" fill="#fff"/>
<rect x="91" y="511.5" width="2" height="1.5" fill="#fff"/>
<rect x="95" y="511.5" width="2" height="1.5" fill="#fff"/>
<rect x="99" y="511.5" width="2" height="1.5" fill="#fff"/>
<rect x="104" y="511.5" width="2" height="1.5" fill="#fff"/>
<rect x="108" y="511.5" width="2" height="1.5" fill="#fff"/>
<rect x="112" y="511.5" width="2" height="1.5" fill="#fff"/>
<rect x="116" y="511.5" width="2" height="1.5" fill="#fff"/>
<rect x="120" y="511.5" width="2" height="1.5" fill="#fff"/>
<rect x="125" y="511.5" width="2" height="1.5" fill="#fff"/>
<rect x="129" y="511.5" width="2" height="1.5" fill="#fff"/>
<rect x="133" y="511.5" width="2" height="1.5" fill="#fff"/>
<rect x="137" y="511.5" width="2" height="1.5" fill="#fff"/>
<rect x="141" y="511.5" width="2" height="1.5" fill="#fff"/>
<rect x="146" y="511.5" width="2" height="1.5" fill="#fff"/>
<rect x="150" y="511.5" width="2" height="1.5" fill="#fff"/>
<rect x="154" y="511.5" width="2" height="1.5" fill="#fff"/>
<rect x="158" y="511.5" width="2" height="1.5" fill="#fff"/>
<rect x="162" y="511.5" width="2" height="1.5" fill="#fff"/>
<rect x="167" y="511.5" width="2" height="1.5" fill="#fff"/>
<rect x="171" y="511.5" width="2" height="1.5" fill="#fff"/>
<rect x="175" y="511.5" width="2" height="1.5" fill="#fff"/>
<rect x="179" y="511.5" width="2" height="1.5" fill="#fff"/>
<rect x="183" y="511.5" width="2" height="1.5" fill="#fff"/>
<rect x="188" y="511.5" width="2" height="1.5" fill="#fff"/>
<rect x="192" y="511.5" width="2" height="1.5" fill="#fff"/>
<rect x="196" y="511.5" width="2" height="1.5" fill="#fff"/>
<rect x="200" y="511.5" width="2" height="1.5" fill="#fff"/>
<rect x="204" y="511.5" width="2" height="1.5" fill="#fff"/>
<rect x="209" y="511.5" width="2" height="1.5" fill="#fff"/>
<rect x="213" y="511.5" width="2" height="1.5" fill="#fff"/>
<rect x="217" y="511.5" width="2" height="1.5" fill="#fff"/>
<rect x="221" y="511.5" width="2" height="1.5" fill="#fff"/>
<rect x="225" y="511.5" width="2" height="1.5" fill="#fff"/>
<rect x="230" y="511.5" width="2" height="1.5" fill="#fff"/>
<rect x="234" y="511.5" width="2" height="1.5" fill="#fff"/>
<rect x="238" y="511.5" width="2" height="1.5" fill="#fff"/>
<rect x="242" y="511.5" width="2" height="1.5" fill="#fff"/>
<rect x="246" y="511.5" width="2" height="1.5" fill="#fff"/>
<rect x="251" y="511.5" width="2" height="1.5" fill="#fff"/>
<rect x="255" y="511.5" width="2" height="1.5" fill="#fff"/>
<rect x="259" y="511.5" width="2" height="1.5" fill="#fff"/>
<rect x="263" y="511.5" width="2" height="1.5" fill="#fff"/>
<rect x="267" y="511.5" width="2" height="1.5" fill="#fff"/>
<rect x="272" y="511.5" width="2" height="1.5" fill="#fff"/>
<rect x="276" y="511.5" width="2" height="1.5" fill="#fff"/>
<rect x="280" y="511.5" width="2" height="1.5" fill="#fff"/>
<rect x="284" y="511.5" width="2" height="1.5" fill="#fff"/>
<rect x="288" y="511.5" width="2" height="1.5" fill="#fff"/>
<rect x="293" y="511.5" width="2" height="1.5" fill="#fff"/>
<rect x="91" y="533" width="2" height="1" fill="#fff"/>
<rect x="95" y="533" width="2" height="1" fill="#fff"/>
<rect x="99" y="533" width="2" height="1" fill="#fff"/>
<rect x="104" y="533" width="2" height="1" fill="#fff"/>
<rect x="108" y="533" width="2" height="1" fill="#fff"/>
<rect x="112" y="533" width="2" height="1" fill="#fff"/>
<rect x="116" y="533" width="2" height="1" fill="#fff"/>
<rect x="120" y="533" width="2" height="1" fill="#fff"/>
<rect x="125" y="533" width="2" height="1" fill="#fff"/>
<rect x="129" y="533" width="2" height="1" fill="#fff"/>
<rect x="133" y="533" width="2" height="1" fill="#fff"/>
<rect x="137" y="533" width="2" height="1" fill="#fff"/>
<rect x="141" y="533" width="2" height="1" fill="#fff"/>
<rect x="146" y="533" width="2" height="1" fill="#fff"/>
<rect x="150" y="533" width="2" height="1" fill="#fff"/>
<rect x="154" y="533" width="2" height="1" fill="#fff"/>
<rect x="158" y="533" width="2" height="1" fill="#fff"/>
<rect x="162" y="533" width="2" height="1" fill="#fff"/>
<rect x="167" y="533" width="2" height="1" fill="#fff"/>
<rect x="171" y="533" width="2" height="1" fill="#fff"/>
<rect x="175" y="533" width="2" height="1" fill="#fff"/>
<rect x="179" y="533" width="2" height="1" fill="#fff"/>
<rect x="183" y="533" width="2" height="1" fill="#fff"/>
<rect x="188" y="533" width="2" height="1" fill="#fff"/>
<rect x="192" y="533" width="2" height="1" fill="#fff"/>
<rect x="196" y="533" width="2" height="1" fill="#fff"/>
<rect x="200" y="533" width="2" height="1" fill="#fff"/>
<rect x="204" y="533" width="2" height="1" fill="#fff"/>
<rect x="209" y="533" width="2" height="1" fill="#fff"/>
<rect x="213" y="533" width="2" height="1" fill="#fff"/>
<rect x="217" y="533" width="2" height="1" fill="#fff"/>
<rect x="221" y="533" width="2" height="1" fill="#fff"/>
<rect x="225" y="533" width="2" height="1" fill="#fff"/>
<rect x="230" y="533" width="2" height="1" fill="#fff"/>
<rect x="234" y="533" width="2" height="1" fill="#fff"/>
<rect x="238" y="533" width="2" height="1" fill="#fff"/>
<rect x="242" y="533" width="2" height="1" fill="#fff"/>
<rect x="246" y="533" width="2" height="1" fill="#fff"/>
<rect x="251" y="533" width="2" height="1" fill="#fff"/>
<rect x="255" y="533" width="2" height="1" fill="#fff"/>
<rect x="259" y="533" width="2" height="1" fill="#fff"/>
<rect x="263" y="533" width="2" height="1" fill="#fff"/>
<rect x="267" y="533" width="2" height="1" fill="#fff"/>
<rect x="272" y="533" width="2" height="1" fill="#fff"/>
<rect x="276" y="533" width="2" height="1" fill="#fff"/>
<rect x="280" y="533" width="2" height="1" fill="#fff"/>
<rect x="284" y="533" width="2" height="1" fill="#fff"/>
<rect x="288" y="533" width="2" height="1" fill="#fff"/>
<rect x="293" y="533" width="2" height="1" fill="#fff"/>
<rect x="90" y="484" width="209" height="1" fill="#fff"/>
<rect x="90" y="445" width="2.5" height="4" fill="#fff"/>
<rect x="90" y="470" width="2.5" height="4" fill="#fff"/>
<rect x="90" y="496" width="2.5" height="4" fill="#fff"/>
<rect x="90" y="521" width="2.5" height="4" fill="#fff"/>
<rect x="142" y="445" width="2.5" height="4" fill="#fff"/>
<rect x="142" y="470" width="2.5" height="4" fill="#fff"/>
<rect x="142" y="496" width="2.5" height="4" fill="#fff"/>
<rect x="142" y="521" width="2.5" height="4" fill="#fff"/>
<rect x="195" y="445" width="2.5" height="4" fill="#fff"/>
<rect x="195" y="470" width="2.5" height="4" fill="#fff"/>
<rect x="195" y="496" width="2.5" height="4" fill="#fff"/>
<rect x="195" y="521" width="2.5" height="4" fill="#fff"/>
<rect x="248" y="445" width="2.5" height="4" fill="#fff"/>
<rect x="248" y="470" width="2.5" height="4" fill="#fff"/>
<rect x="248" y="496" width="2.5" height="4" fill="#fff"/>
<rect x="248" y="521" width="2.5" height="4" fill="#fff"/>
<polygon points="166,479.5 167.5,478 220.5,478 222,479.5 222,490.5 220.5,492 167.5,492 166,490.5" fill="#fff"/>
<text transform="translate(171 489) scale(0.85 1)" font-family="Liberation Sans" font-size="12.50"  textLength="54.12" lengthAdjust="spacing" fill="#000">BANK 0</text>
<rect x="772" y="59" width="35" height="43" fill="#000"/>
<rect x="800" y="48" width="7" height="67" fill="#000"/>
<path d="M807 59.5 H821 L822.5 61 V100 L821 101.5 H807" fill="none" stroke="#000" stroke-width="1"/>
<rect x="798" y="51" width="19" height="6" fill="#000"/>
<rect x="799" y="52" width="1" height="4" fill="#fff"/>
<rect x="808" y="52" width="8" height="4" fill="#fff"/>
<rect x="798" y="105" width="19" height="6" fill="#000"/>
<rect x="799" y="106" width="1" height="4" fill="#fff"/>
<rect x="808" y="106" width="8" height="4" fill="#fff"/>
<polygon points="784,72 812,72 815,75 815,87 812,90 784,90" fill="#000"/>
<polygon points="784,73.5 785.5,72 811.5,72 813,73.5 813,87.5 811.5,89 785.5,89 784,87.5" fill="#fff"/>
<text transform="translate(786 84) scale(0.85 1)" font-family="Liberation Sans" font-size="12.50"  textLength="27.06" lengthAdjust="spacing" fill="#000">CN5</text>
<rect x="777" y="131" width="30" height="91" fill="#000"/>
<rect x="800" y="120" width="7" height="112" fill="#000"/>
<path d="M807 131.5 H819 L820.5 133 V220 L819 221.5 H807" fill="none" stroke="#000" stroke-width="1"/>
<rect x="805" y="121" width="1" height="111" fill="#fff"/>
<rect x="796" y="122" width="19" height="6" fill="#000"/>
<rect x="797" y="123" width="3" height="4" fill="#fff"/>
<rect x="808" y="123" width="6" height="4" fill="#fff"/>
<rect x="796" y="224" width="19" height="6" fill="#000"/>
<rect x="797" y="225" width="3" height="4" fill="#fff"/>
<rect x="808" y="225" width="6" height="4" fill="#fff"/>
<polygon points="784,168 812,168 815,171 815,182 812,185 784,185" fill="#000"/>
<polygon points="784,169.5 785.5,168 811.5,168 813,169.5 813,182.5 811.5,184 785.5,184 784,182.5" fill="#fff"/>
<text transform="translate(787 179) scale(0.85 1)" font-family="Liberation Sans" font-size="12.50"  textLength="27.06" lengthAdjust="spacing" fill="#000">CN4</text>
<rect x="773" y="247" width="34" height="45" fill="#000"/>
<rect x="800" y="236" width="7" height="68" fill="#000"/>
<path d="M807 247.5 H822 L823.5 249 V290 L822 291.5 H807" fill="none" stroke="#000" stroke-width="1"/>
<rect x="805" y="237" width="1" height="67" fill="#fff"/>
<rect x="799" y="240" width="19" height="6" fill="#000"/>
<rect x="800" y="241" width="0" height="4" fill="#fff"/>
<rect x="808" y="241" width="9" height="4" fill="#fff"/>
<rect x="799" y="294" width="19" height="6" fill="#000"/>
<rect x="800" y="295" width="0" height="4" fill="#fff"/>
<rect x="808" y="295" width="9" height="4" fill="#fff"/>
<polygon points="784,261 813,261 816,264 816,277 813,280 784,280" fill="#000"/>
<polygon points="784,262.5 785.5,261 812.5,261 814,262.5 814,277.5 812.5,279 785.5,279 784,277.5" fill="#fff"/>
<text transform="translate(786 273) scale(0.85 1)" font-family="Liberation Sans" font-size="12.50"  textLength="29.41" lengthAdjust="spacing" fill="#000">CN3</text>
<rect x="772" y="323" width="35" height="45" fill="#000"/>
<rect x="800" y="312" width="7" height="69" fill="#000"/>
<path d="M807 323.5 H822 L823.5 325 V366 L822 367.5 H807" fill="none" stroke="#000" stroke-width="1"/>
<rect x="798" y="315" width="19" height="6" fill="#000"/>
<rect x="799" y="316" width="1" height="4" fill="#fff"/>
<rect x="808" y="316" width="8" height="4" fill="#fff"/>
<rect x="798" y="369" width="19" height="6" fill="#000"/>
<rect x="799" y="370" width="1" height="4" fill="#fff"/>
<rect x="808" y="370" width="8" height="4" fill="#fff"/>
<polygon points="784,339 811,339 814,342 814,352 811,355 784,355" fill="#000"/>
<polygon points="784,340.5 785.5,339 810.5,339 812,340.5 812,352.5 810.5,354 785.5,354 784,352.5" fill="#fff"/>
<text transform="translate(785 349.5) scale(0.85 1)" font-family="Liberation Sans" font-size="12.50"  textLength="28.24" lengthAdjust="spacing" fill="#000">CN2</text>
<rect x="768.5" y="404.5" width="39" height="39" fill="none" stroke="#000" stroke-width="1"/>
<rect x="801" y="404" width="6" height="40" fill="#000"/>
<polygon points="771,417 774,414 799,414 802,417 802,430 799,433 774,433 771,430" fill="#000"/>
<polygon points="773,416.5 774.5,415 799.5,415 801,416.5 801,429.5 799.5,431 774.5,431 773,429.5" fill="#fff"/>
<text transform="translate(774 427.3) scale(0.85 1)" font-family="Liberation Sans" font-size="12.92"  textLength="30.59" lengthAdjust="spacing" fill="#000">CN1</text>
<polygon points="777,463 801,463 801,456 807,456 807,507 801,507 801,500 777,500 777,493 774,493 774,469 777,469" fill="#000"/>
<rect x="770" y="471" width="5" height="8" fill="#000"/>
<rect x="771" y="472" width="3" height="6" fill="#fff"/>
<rect x="770" y="483" width="5" height="8" fill="#000"/>
<rect x="771" y="484" width="3" height="6" fill="#fff"/>
<rect x="655" y="422" width="76" height="39" fill="#000"/>
<text transform="translate(661 439.5) scale(0.85 1)" font-family="Liberation Sans" font-size="12.50" font-weight="bold" textLength="75.29" lengthAdjust="spacing" fill="#fff">REAL TIME</text>
<text transform="translate(673 453) scale(0.85 1)" font-family="Liberation Sans" font-size="12.50" font-weight="bold" textLength="47.06" lengthAdjust="spacing" fill="#fff">CLOCK</text>
<rect x="651" y="516" width="112" height="24" fill="#000"/>
<rect x="652" y="517" width="110" height="22" fill="#fff"/>
<rect x="656" y="519" width="7" height="2" fill="#000"/>
<rect x="658.5" y="521" width="2" height="2" fill="#000"/>
<rect x="656" y="525" width="7" height="3" fill="#000"/>
<rect x="656" y="530" width="7" height="7" fill="#000"/>
<rect x="657" y="531" width="5" height="5" fill="#fff"/>
<rect x="665" y="519" width="7" height="2" fill="#000"/>
<rect x="667.5" y="521" width="2" height="2" fill="#000"/>
<rect x="665" y="525" width="7" height="3" fill="#000"/>
<rect x="665" y="530" width="7" height="7" fill="#000"/>
<rect x="666" y="531" width="5" height="5" fill="#fff"/>
<rect x="674" y="519" width="7" height="2" fill="#000"/>
<rect x="676.5" y="521" width="2" height="2" fill="#000"/>
<rect x="674" y="525" width="7" height="3" fill="#000"/>
<rect x="674" y="530" width="7" height="7" fill="#000"/>
<rect x="675" y="531" width="5" height="5" fill="#fff"/>
<rect x="682" y="519" width="7" height="2" fill="#000"/>
<rect x="684.5" y="521" width="2" height="2" fill="#000"/>
<rect x="682" y="525" width="7" height="3" fill="#000"/>
<rect x="682" y="530" width="7" height="7" fill="#000"/>
<rect x="683" y="531" width="5" height="5" fill="#fff"/>
<rect x="691" y="519" width="7" height="2" fill="#000"/>
<rect x="693.5" y="521" width="2" height="2" fill="#000"/>
<rect x="691" y="525" width="7" height="3" fill="#000"/>
<rect x="691" y="530" width="7" height="7" fill="#000"/>
<rect x="692" y="531" width="5" height="5" fill="#fff"/>
<rect x="700" y="519" width="7" height="2" fill="#000"/>
<rect x="702.5" y="521" width="2" height="2" fill="#000"/>
<rect x="700" y="525" width="7" height="3" fill="#000"/>
<rect x="700" y="530" width="7" height="7" fill="#000"/>
<rect x="701" y="531" width="5" height="5" fill="#fff"/>
<rect x="708" y="519" width="7" height="2" fill="#000"/>
<rect x="710.5" y="521" width="2" height="2" fill="#000"/>
<rect x="708" y="525" width="7" height="3" fill="#000"/>
<rect x="708" y="530" width="7" height="7" fill="#000"/>
<rect x="709" y="531" width="5" height="5" fill="#fff"/>
<rect x="717" y="519" width="7" height="2" fill="#000"/>
<rect x="719.5" y="521" width="2" height="2" fill="#000"/>
<rect x="717" y="525" width="7" height="3" fill="#000"/>
<rect x="717" y="530" width="7" height="7" fill="#000"/>
<rect x="718" y="531" width="5" height="5" fill="#fff"/>
<rect x="726" y="519" width="7" height="2" fill="#000"/>
<rect x="728.5" y="521" width="2" height="2" fill="#000"/>
<rect x="726" y="525" width="7" height="3" fill="#000"/>
<rect x="726" y="530" width="7" height="7" fill="#000"/>
<rect x="727" y="531" width="5" height="5" fill="#fff"/>
<rect x="734" y="519" width="7" height="2" fill="#000"/>
<rect x="736.5" y="521" width="2" height="2" fill="#000"/>
<rect x="734" y="525" width="7" height="3" fill="#000"/>
<rect x="734" y="530" width="7" height="7" fill="#000"/>
<rect x="735" y="531" width="5" height="5" fill="#fff"/>
<rect x="743" y="519" width="7" height="2" fill="#000"/>
<rect x="745.5" y="521" width="2" height="2" fill="#000"/>
<rect x="743" y="525" width="7" height="3" fill="#000"/>
<rect x="743" y="530" width="7" height="7" fill="#000"/>
<rect x="744" y="531" width="5" height="5" fill="#fff"/>
<rect x="752" y="519" width="7" height="2" fill="#000"/>
<rect x="754.5" y="521" width="2" height="2" fill="#000"/>
<rect x="752" y="525" width="7" height="3" fill="#000"/>
<rect x="752" y="530" width="7" height="7" fill="#000"/>
<rect x="753" y="531" width="5" height="5" fill="#fff"/>
<rect x="433" y="454" width="119" height="13" fill="#000"/>
<rect x="434" y="455" width="117" height="11" fill="#fff"/>
<rect x="435" y="455" width="115" height="10" fill="#000"/>
<rect x="440" y="455" width="1" height="10" fill="#fff"/>
<rect x="446" y="455" width="1" height="10" fill="#fff"/>
<rect x="452" y="455" width="1" height="10" fill="#fff"/>
<rect x="458" y="455" width="1" height="10" fill="#fff"/>
<rect x="464" y="455" width="1" height="10" fill="#fff"/>
<rect x="470" y="455" width="1" height="10" fill="#fff"/>
<rect x="475" y="455" width="1" height="10" fill="#fff"/>
<rect x="481" y="455" width="1" height="10" fill="#fff"/>
<rect x="487" y="455" width="1" height="10" fill="#fff"/>
<rect x="493" y="455" width="1" height="10" fill="#fff"/>
<rect x="499" y="455" width="1" height="10" fill="#fff"/>
<rect x="505" y="455" width="1" height="10" fill="#fff"/>
<rect x="511" y="455" width="1" height="10" fill="#fff"/>
<rect x="517" y="455" width="1" height="10" fill="#fff"/>
<rect x="523" y="455" width="1" height="10" fill="#fff"/>
<rect x="528" y="455" width="1" height="10" fill="#fff"/>
<rect x="534" y="455" width="1" height="10" fill="#fff"/>
<rect x="540" y="455" width="1" height="10" fill="#fff"/>
<rect x="546" y="455" width="1" height="10" fill="#fff"/>
<rect x="435" y="460" width="115" height="1" fill="#fff"/>
<rect x="436" y="462" width="3" height="2" fill="#fff"/>
<rect x="471" y="469" width="119" height="12" fill="#000"/>
<rect x="472" y="470" width="117" height="10" fill="#fff"/>
<rect x="473" y="470" width="115" height="9" fill="#000"/>
<rect x="478" y="470" width="1" height="9" fill="#fff"/>
<rect x="484" y="470" width="1" height="9" fill="#fff"/>
<rect x="490" y="470" width="1" height="9" fill="#fff"/>
<rect x="496" y="470" width="1" height="9" fill="#fff"/>
<rect x="502" y="470" width="1" height="9" fill="#fff"/>
<rect x="508" y="470" width="1" height="9" fill="#fff"/>
<rect x="513" y="470" width="1" height="9" fill="#fff"/>
<rect x="519" y="470" width="1" height="9" fill="#fff"/>
<rect x="525" y="470" width="1" height="9" fill="#fff"/>
<rect x="531" y="470" width="1" height="9" fill="#fff"/>
<rect x="537" y="470" width="1" height="9" fill="#fff"/>
<rect x="543" y="470" width="1" height="9" fill="#fff"/>
<rect x="549" y="470" width="1" height="9" fill="#fff"/>
<rect x="555" y="470" width="1" height="9" fill="#fff"/>
<rect x="561" y="470" width="1" height="9" fill="#fff"/>
<rect x="566" y="470" width="1" height="9" fill="#fff"/>
<rect x="572" y="470" width="1" height="9" fill="#fff"/>
<rect x="578" y="470" width="1" height="9" fill="#fff"/>
<rect x="584" y="470" width="1" height="9" fill="#fff"/>
<rect x="473" y="476" width="115" height="1" fill="#fff"/>
<rect x="474" y="478" width="3" height="2" fill="#fff"/>
<rect x="485" y="487" width="101" height="13" fill="#000"/>
<rect x="486" y="488" width="99" height="11" fill="#fff"/>
<rect x="487" y="488" width="97" height="10" fill="#000"/>
<rect x="492" y="488" width="1" height="10" fill="#fff"/>
<rect x="498" y="488" width="1" height="10" fill="#fff"/>
<rect x="504" y="488" width="1" height="10" fill="#fff"/>
<rect x="510" y="488" width="1" height="10" fill="#fff"/>
<rect x="516" y="488" width="1" height="10" fill="#fff"/>
<rect x="522" y="488" width="1" height="10" fill="#fff"/>
<rect x="527" y="488" width="1" height="10" fill="#fff"/>
<rect x="533" y="488" width="1" height="10" fill="#fff"/>
<rect x="539" y="488" width="1" height="10" fill="#fff"/>
<rect x="545" y="488" width="1" height="10" fill="#fff"/>
<rect x="551" y="488" width="1" height="10" fill="#fff"/>
<rect x="557" y="488" width="1" height="10" fill="#fff"/>
<rect x="563" y="488" width="1" height="10" fill="#fff"/>
<rect x="569" y="488" width="1" height="10" fill="#fff"/>
<rect x="575" y="488" width="1" height="10" fill="#fff"/>
<rect x="580" y="488" width="1" height="10" fill="#fff"/>
<rect x="487" y="494" width="97" height="1" fill="#fff"/>
<rect x="488" y="496" width="3" height="2" fill="#fff"/>
<rect x="389" y="297" width="128" height="20" fill="#000"/>
<rect x="396" y="304" width="113" height="6" fill="#fff"/>
<rect x="527" y="297" width="202" height="20" fill="#000"/>
<rect x="535" y="304" width="186" height="6" fill="#fff"/>
<rect x="542" y="304" width="2" height="6" fill="#000"/>
<rect x="573" y="304" width="2" height="6" fill="#000"/>
<rect x="544" y="300" width="29" height="14" fill="#fff"/>
<text transform="translate(546 309.8) scale(0.7 1)" font-family="Liberation Sans" font-size="12.22"  textLength="30.71" lengthAdjust="spacing" fill="#000">SL1</text>
<rect x="556" y="154" width="84" height="24" fill="#000"/>
<rect x="558" y="156" width="4" height="5" fill="#fff"/>
<rect x="634" y="156" width="4" height="5" fill="#fff"/>
<rect x="558" y="171" width="4" height="5" fill="#fff"/>
<rect x="634" y="171" width="4" height="5" fill="#fff"/>
<rect x="564" y="156" width="3" height="5" fill="#fff"/>
<rect x="629" y="156" width="3" height="5" fill="#fff"/>
<rect x="564" y="171" width="3" height="5" fill="#fff"/>
<rect x="629" y="171" width="3" height="5" fill="#fff"/>
<rect x="561" y="163" width="7" height="6" fill="#fff"/>
<rect x="628" y="163" width="7" height="6" fill="#fff"/>
<polygon points="571,160 573,158 624,158 626,160 626,172 624,174 573,174 571,172" fill="#fff"/>
<text transform="translate(575.5 169.8) scale(0.85 1)" font-family="Liberation Sans" font-size="13.33"  textLength="54.12" lengthAdjust="spacing" fill="#000">BANK 1</text>
<rect x="571" y="175" width="4" height="1" fill="#fff"/>
<rect x="577" y="175" width="4" height="1" fill="#fff"/>
<rect x="583" y="175" width="4" height="1" fill="#fff"/>
<rect x="589" y="175" width="4" height="1" fill="#fff"/>
<rect x="595" y="175" width="4" height="1" fill="#fff"/>
<rect x="601" y="175" width="4" height="1" fill="#fff"/>
<rect x="607" y="175" width="4" height="1" fill="#fff"/>
<rect x="613" y="175" width="4" height="1" fill="#fff"/>
<rect x="619" y="175" width="4" height="1" fill="#fff"/>
<rect x="571" y="180" width="51" height="3" fill="#000"/>
<rect x="571" y="202" width="51" height="3" fill="#000"/>
<rect x="573" y="181" width="2" height="1" fill="#fff"/>
<rect x="573" y="203" width="2" height="1" fill="#fff"/>
<rect x="577" y="181" width="2" height="1" fill="#fff"/>
<rect x="577" y="203" width="2" height="1" fill="#fff"/>
<rect x="581" y="181" width="2" height="1" fill="#fff"/>
<rect x="581" y="203" width="2" height="1" fill="#fff"/>
<rect x="585" y="181" width="2" height="1" fill="#fff"/>
<rect x="585" y="203" width="2" height="1" fill="#fff"/>
<rect x="588" y="181" width="2" height="1" fill="#fff"/>
<rect x="588" y="203" width="2" height="1" fill="#fff"/>
<rect x="592" y="181" width="2" height="1" fill="#fff"/>
<rect x="592" y="203" width="2" height="1" fill="#fff"/>
<rect x="596" y="181" width="2" height="1" fill="#fff"/>
<rect x="596" y="203" width="2" height="1" fill="#fff"/>
<rect x="600" y="181" width="2" height="1" fill="#fff"/>
<rect x="600" y="203" width="2" height="1" fill="#fff"/>
<rect x="604" y="181" width="2" height="1" fill="#fff"/>
<rect x="604" y="203" width="2" height="1" fill="#fff"/>
<rect x="608" y="181" width="2" height="1" fill="#fff"/>
<rect x="608" y="203" width="2" height="1" fill="#fff"/>
<rect x="612" y="181" width="2" height="1" fill="#fff"/>
<rect x="612" y="203" width="2" height="1" fill="#fff"/>
<rect x="615" y="181" width="2" height="1" fill="#fff"/>
<rect x="615" y="203" width="2" height="1" fill="#fff"/>
<rect x="619" y="181" width="2" height="1" fill="#fff"/>
<rect x="619" y="203" width="2" height="1" fill="#fff"/>
<polygon points="567,186 570,183 624,183 627,186 627,199 624,202 570,202 567,199" fill="#000"/>
<polygon points="569,186.5 570.5,185 623.5,185 625,186.5 625,198.5 623.5,200 570.5,200 569,198.5" fill="#fff"/>
<text transform="translate(573.6 195.5) scale(0.85 1)" font-family="Liberation Sans" font-size="13.19"  textLength="53.88" lengthAdjust="spacing" fill="#000">BANK 0</text>
<path d="M636 150.5 L640.5 151.5 L642.5 153.5 V178 L644.5 180.5 H648 M644.5 181.5 L642.5 184 V206 L640.5 208.5 L634 209.5" fill="none" stroke="#000" stroke-width="1.2" shape-rendering="geometricPrecision"/>
<polygon points="661,149 665,145 723,145 727,149 727,207 723,211 665,211 661,207" fill="#000"/>
<rect x="676" y="145" width="1" height="3" fill="#fff"/>
<rect x="678" y="145" width="1" height="3" fill="#fff"/>
<rect x="680" y="145" width="1" height="3" fill="#fff"/>
<rect x="692" y="145" width="1" height="3" fill="#fff"/>
<rect x="694" y="145" width="1" height="3" fill="#fff"/>
<rect x="697" y="145" width="1" height="3" fill="#fff"/>
<rect x="709" y="145" width="1" height="3" fill="#fff"/>
<rect x="711" y="145" width="1" height="3" fill="#fff"/>
<rect x="713" y="145" width="1" height="3" fill="#fff"/>
<rect x="668" y="208" width="1" height="3" fill="#fff"/>
<rect x="670" y="208" width="1" height="3" fill="#fff"/>
<rect x="672" y="208" width="1" height="3" fill="#fff"/>
<rect x="681" y="208" width="1" height="3" fill="#fff"/>
<rect x="683" y="208" width="1" height="3" fill="#fff"/>
<rect x="685" y="208" width="1" height="3" fill="#fff"/>
<rect x="699" y="208" width="1" height="3" fill="#fff"/>
<rect x="702" y="208" width="1" height="3" fill="#fff"/>
<rect x="704" y="208" width="1" height="3" fill="#fff"/>
<rect x="715" y="208" width="1" height="3" fill="#fff"/>
<rect x="717" y="208" width="1" height="3" fill="#fff"/>
<rect x="720" y="208" width="1" height="3" fill="#fff"/>
<rect x="661" y="156" width="3" height="1" fill="#fff"/>
<rect x="661" y="159" width="3" height="1" fill="#fff"/>
<rect x="661" y="161" width="3" height="1" fill="#fff"/>
<rect x="661" y="175" width="3" height="1" fill="#fff"/>
<rect x="661" y="177" width="3" height="1" fill="#fff"/>
<rect x="661" y="179" width="3" height="1" fill="#fff"/>
<rect x="661" y="193" width="3" height="1" fill="#fff"/>
<rect x="661" y="195" width="3" height="1" fill="#fff"/>
<rect x="661" y="197" width="3" height="1" fill="#fff"/>
<rect x="724" y="163" width="3" height="1" fill="#fff"/>
<rect x="724" y="165" width="3" height="1" fill="#fff"/>
<rect x="724" y="167" width="3" height="1" fill="#fff"/>
<rect x="724" y="179" width="3" height="1" fill="#fff"/>
<rect x="724" y="182" width="3" height="1" fill="#fff"/>
<rect x="724" y="184" width="3" height="1" fill="#fff"/>
<rect x="724" y="196" width="3" height="1" fill="#fff"/>
<rect x="724" y="198" width="3" height="1" fill="#fff"/>
<rect x="724" y="200" width="3" height="1" fill="#fff"/>
<polygon points="647,175 650,172 694,172 697,175 697,187 694,190 650,190 647,187" fill="#000"/>
<polygon points="649,175.5 650.5,174 694.5,174 696,175.5 696,187.5 694.5,189 650.5,189 649,187.5" fill="#fff"/>
<text transform="translate(654 185.5) scale(0.85 1)" font-family="Liberation Sans" font-size="12.78"  textLength="42.35" lengthAdjust="spacing" fill="#000">VRAM</text>
<rect x="407" y="51" width="19" height="14" fill="#000"/>
<rect x="411" y="52" width="2" height="5" fill="#fff"/>
<rect x="417" y="52" width="2" height="5" fill="#fff"/>
<rect x="420" y="52" width="4" height="5" fill="#fff"/>
<rect x="421" y="53" width="2" height="3" fill="#000"/>
<rect x="424" y="52" width="1" height="5" fill="#fff"/>
<rect x="411" y="60" width="2" height="5" fill="#fff"/>
<rect x="417" y="60" width="2" height="5" fill="#fff"/>
<rect x="420" y="60" width="4" height="5" fill="#fff"/>
<rect x="421" y="61" width="2" height="3" fill="#000"/>
<rect x="424" y="60" width="1" height="5" fill="#fff"/>
<rect x="408" y="59" width="17" height="1" fill="#fff"/>
<rect x="427" y="51" width="19" height="14" fill="#000"/>
<rect x="431" y="52" width="2" height="5" fill="#fff"/>
<rect x="437" y="52" width="2" height="5" fill="#fff"/>
<rect x="440" y="52" width="4" height="5" fill="#fff"/>
<rect x="441" y="53" width="2" height="3" fill="#000"/>
<rect x="444" y="52" width="1" height="5" fill="#fff"/>
<rect x="431" y="60" width="2" height="5" fill="#fff"/>
<rect x="437" y="60" width="2" height="5" fill="#fff"/>
<rect x="440" y="60" width="4" height="5" fill="#fff"/>
<rect x="441" y="61" width="2" height="3" fill="#000"/>
<rect x="444" y="60" width="1" height="5" fill="#fff"/>
<rect x="428" y="59" width="17" height="1" fill="#fff"/>
<rect x="448" y="51" width="19" height="14" fill="#000"/>
<rect x="452" y="52" width="2" height="5" fill="#fff"/>
<rect x="458" y="52" width="2" height="5" fill="#fff"/>
<rect x="461" y="52" width="4" height="5" fill="#fff"/>
<rect x="462" y="53" width="2" height="3" fill="#000"/>
<rect x="465" y="52" width="1" height="5" fill="#fff"/>
<rect x="452" y="60" width="2" height="5" fill="#fff"/>
<rect x="458" y="60" width="2" height="5" fill="#fff"/>
<rect x="461" y="60" width="4" height="5" fill="#fff"/>
<rect x="462" y="61" width="2" height="3" fill="#000"/>
<rect x="465" y="60" width="1" height="5" fill="#fff"/>
<rect x="449" y="59" width="17" height="1" fill="#fff"/>
<rect x="469" y="51" width="19" height="14" fill="#000"/>
<rect x="473" y="52" width="2" height="5" fill="#fff"/>
<rect x="479" y="52" width="2" height="5" fill="#fff"/>
<rect x="482" y="52" width="4" height="5" fill="#fff"/>
<rect x="483" y="53" width="2" height="3" fill="#000"/>
<rect x="486" y="52" width="1" height="5" fill="#fff"/>
<rect x="473" y="60" width="2" height="5" fill="#fff"/>
<rect x="479" y="60" width="2" height="5" fill="#fff"/>
<rect x="482" y="60" width="4" height="5" fill="#fff"/>
<rect x="483" y="61" width="2" height="3" fill="#000"/>
<rect x="486" y="60" width="1" height="5" fill="#fff"/>
<rect x="470" y="59" width="17" height="1" fill="#fff"/>
<rect x="525" y="39" width="79" height="14" fill="#000"/>
<rect x="526" y="40" width="77" height="12" fill="#fff"/>
<rect x="528" y="41" width="4" height="4" fill="#000"/>
<rect x="528" y="47" width="4" height="4" fill="#000"/>
<rect x="534" y="41" width="4" height="4" fill="#000"/>
<rect x="534" y="47" width="4" height="4" fill="#000"/>
<rect x="540" y="41" width="4" height="4" fill="#000"/>
<rect x="540" y="47" width="4" height="4" fill="#000"/>
<rect x="545" y="41" width="4" height="4" fill="#000"/>
<rect x="545" y="47" width="4" height="4" fill="#000"/>
<rect x="551" y="41" width="4" height="4" fill="#000"/>
<rect x="551" y="47" width="4" height="4" fill="#000"/>
<rect x="557" y="41" width="4" height="4" fill="#000"/>
<rect x="557" y="47" width="4" height="4" fill="#000"/>
<rect x="563" y="41" width="4" height="4" fill="#000"/>
<rect x="563" y="47" width="4" height="4" fill="#000"/>
<rect x="569" y="41" width="4" height="4" fill="#000"/>
<rect x="569" y="47" width="4" height="4" fill="#000"/>
<rect x="575" y="41" width="4" height="4" fill="#000"/>
<rect x="575" y="47" width="4" height="4" fill="#000"/>
<rect x="580" y="41" width="4" height="4" fill="#000"/>
<rect x="580" y="47" width="4" height="4" fill="#000"/>
<rect x="586" y="41" width="4" height="4" fill="#000"/>
<rect x="586" y="47" width="4" height="4" fill="#000"/>
<rect x="592" y="41" width="4" height="4" fill="#000"/>
<rect x="592" y="47" width="4" height="4" fill="#000"/>
<rect x="598" y="41" width="4" height="4" fill="#000"/>
<rect x="598" y="47" width="4" height="4" fill="#000"/>
<rect x="529" y="48" width="2" height="2" fill="#fff"/>
<line x1="397" y1="45" x2="408" y2="55" stroke="#000" stroke-width="3"/>
<polygon points="391,57.5 400,57.5 403,59.5 407,59.5 407,60.5 403,62.5 400,64.5 391,64.5" fill="#000"/>
<rect x="390" y="60.5" width="9" height="1" fill="#fff"/>
<line x1="426" y1="74" x2="435" y2="64" stroke="#000" stroke-width="3"/>
<line x1="427" y1="36" x2="434" y2="52" stroke="#000" stroke-width="3"/>
<line x1="463" y1="35" x2="464" y2="52" stroke="#000" stroke-width="3"/>
<line x1="451" y1="64" x2="464" y2="74" stroke="#000" stroke-width="3"/>
<line x1="488" y1="42" x2="478" y2="52" stroke="#000" stroke-width="3"/>
<polygon points="504,58.5 495,58.5 492,60.5 488,60.5 488,61.5 492,63.5 495,65.5 504,65.5" fill="#000"/>
<rect x="496" y="61.5" width="9" height="1" fill="#fff"/>
<polygon points="566,53 568,53 570,70 564,70" fill="#000"/>
<line x1="57" y1="200" x2="47" y2="210" stroke="#000" stroke-width="3"/>
<polygon points="74,216 65,216 62,218.5 57,219 57,220 62,221.5 65,224 74,224" fill="#000"/>
<rect x="66" y="219.5" width="9" height="1" fill="#fff"/>
<polygon points="72,257 63,257 60,259.5 56,260 56,261 60,262.5 63,265 72,265" fill="#000"/>
<rect x="64" y="260.5" width="9" height="1" fill="#fff"/>
<polygon points="34,339.5 43,339.5 46,341.5 51,341.5 51,342.5 46,344.5 43,346.5 34,346.5" fill="#000"/>
<rect x="33" y="342.5" width="9" height="1" fill="#fff"/>
<polygon points="34,360.5 43,360.5 46,362.5 51,363.5 51,364.5 46,365.5 43,367.5 34,367.5" fill="#000"/>
<rect x="33" y="363.5" width="9" height="1" fill="#fff"/>
<polygon points="34,383.5 43,383.5 46,385.5 51,388.5 51,389.5 46,388.5 43,390.5 34,390.5" fill="#000"/>
<rect x="33" y="386.5" width="9" height="1" fill="#fff"/>
<polygon points="34,414.5 43,414.5 46,416.5 51,416.5 51,417.5 46,419.5 43,421.5 34,421.5" fill="#000"/>
<rect x="33" y="417.5" width="9" height="1" fill="#fff"/>
<polygon points="34,436.5 43,436.5 46,438.5 51,438.5 51,439.5 46,441.5 43,443.5 34,443.5" fill="#000"/>
<rect x="33" y="439.5" width="9" height="1" fill="#fff"/>
<rect x="27" y="329" width="2" height="5" fill="#000"/>
<polygon points="668,279 677,279 680,281 684,282 684,283 680,284 677,286 668,286" fill="#000"/>
<rect x="667" y="282" width="9" height="1" fill="#fff"/>
<polygon points="569,455 560,455 557,457 552,459 552,460 557,460 560,462 569,462" fill="#000"/>
<rect x="561" y="458" width="9" height="1" fill="#fff"/>
<polygon points="606,471 597,471 594,473 590,475 590,476 594,476 597,478 606,478" fill="#000"/>
<rect x="598" y="474" width="9" height="1" fill="#fff"/>
<polygon points="603,490 594,490 591,492 586,493 586,494 591,495 594,497 603,497" fill="#000"/>
<rect x="595" y="493" width="9" height="1" fill="#fff"/>
<line x1="770" y1="514" x2="779" y2="522" stroke="#000" stroke-width="2.5"/>
<polygon points="358,32 361,29 397,29 400,32 400,44 397,47 361,47 358,44" fill="#000"/>
<polygon points="360.5,32 362,30.5 397.5,30.5 399,32 399,42.5 397.5,44 362,44 360.5,42.5" fill="#fff"/>
<text transform="translate(365.7 41.55) scale(0.85 1)" font-family="Liberation Sans" font-size="11.94"  textLength="33.06" lengthAdjust="spacing" fill="#000">J1H1</text>
<polygon points="351,56 354,53 390,53 393,56 393,68 390,71 354,71 351,68" fill="#000"/>
<polygon points="353,56.5 354.5,55 389.5,55 391,56.5 391,66.5 389.5,68 354.5,68 353,66.5" fill="#fff"/>
<text transform="translate(357.95 65.8) scale(0.85 1)" font-family="Liberation Sans" font-size="11.94"  textLength="33.06" lengthAdjust="spacing" fill="#000">J1H2</text>
<polygon points="400,19 403,16 439,16 442,19 442,34 439,37 403,37 400,34" fill="#000"/>
<polygon points="402.5,19.5 404,18 437.5,18 439,19.5 439,31.5 437.5,33 404,33 402.5,31.5" fill="#fff"/>
<text transform="translate(406.7 29.8) scale(0.85 1)" font-family="Liberation Sans" font-size="11.94"  textLength="33.06" lengthAdjust="spacing" fill="#000">J1H3</text>
<polygon points="388,75 391,72 424,72 427,75 427,88 424,91 391,91 388,88" fill="#000"/>
<polygon points="390,75.5 391.5,74 422.5,74 424,75.5 424,86.5 422.5,88 391.5,88 390,86.5" fill="#fff"/>
<text transform="translate(392.95 85.3) scale(0.85 1)" font-family="Liberation Sans" font-size="11.94"  textLength="33.06" lengthAdjust="spacing" fill="#000">J1H4</text>
<polygon points="443,19 446,16 483,16 486,19 486,33 483,36 446,36 443,33" fill="#000"/>
<polygon points="445,19.5 446.5,18 481.5,18 483,19.5 483,31.5 481.5,33 446.5,33 445,31.5" fill="#fff"/>
<text transform="translate(449.95 29.8) scale(0.85 1)" font-family="Liberation Sans" font-size="11.94"  textLength="33.06" lengthAdjust="spacing" fill="#000">J1H5</text>
<polygon points="461,75 464,72 498,72 501,75 501,88 498,91 464,91 461,88" fill="#000"/>
<polygon points="463,75.5 464.5,74 496.5,74 498,75.5 498,86.5 496.5,88 464.5,88 463,86.5" fill="#fff"/>
<text transform="translate(466.45 85.3) scale(0.85 1)" font-family="Liberation Sans" font-size="11.94"  textLength="33.06" lengthAdjust="spacing" fill="#000">J1H6</text>
<polygon points="486,28 489,25 523,25 526,28 526,40 523,43 489,43 486,40" fill="#000"/>
<polygon points="488,28.5 489.5,27 523,27 524.5,28.5 524.5,39.5 523,41 489.5,41 488,39.5" fill="#fff"/>
<text transform="translate(492.2 38.3) scale(0.85 1)" font-family="Liberation Sans" font-size="11.94"  textLength="33.06" lengthAdjust="spacing" fill="#000">J1J1</text>
<polygon points="502,56 505,53 540,53 543,56 543,68 540,71 505,71 502,68" fill="#000"/>
<polygon points="504,56.5 505.5,55 538.5,55 540,56.5 540,66.5 538.5,68 505.5,68 504,66.5" fill="#fff"/>
<text transform="translate(507.95 65.8) scale(0.85 1)" font-family="Liberation Sans" font-size="11.94"  textLength="33.06" lengthAdjust="spacing" fill="#000">J1J2</text>
<polygon points="551,72 554,69 581,69 584,72 584,84 581,87 554,87 551,84" fill="#000"/>
<polygon points="553,72.5 554.5,71 579.5,71 581,72.5 581,82.5 579.5,84 554.5,84 553,82.5" fill="#fff"/>
<text transform="translate(556.65 81.8) scale(0.85 1)" font-family="Liberation Sans" font-size="11.94"  textLength="24.35" lengthAdjust="spacing" fill="#000">J94</text>
<polygon points="53,187 56,184 91,184 94,187 94,199 91,202 56,202 53,199" fill="#000"/>
<polygon points="55.5,187.5 57,186 91,186 92.5,187.5 92.5,198.5 91,200 57,200 55.5,198.5" fill="#fff"/>
<text transform="translate(57 196.3) scale(0.85 1)" font-family="Liberation Sans" font-size="12.22"  textLength="34.71" lengthAdjust="spacing" fill="#000">J4A1</text>
<polygon points="72,213 75,210 111,210 114,213 114,226 111,229 75,229 72,226" fill="#000"/>
<polygon points="74,213.5 75.5,212 109.5,212 111,213.5 111,224.5 109.5,226 75.5,226 74,224.5" fill="#fff"/>
<text transform="translate(76.7 221.5) scale(0.85 1)" font-family="Liberation Sans" font-size="11.67"  textLength="35.18" lengthAdjust="spacing" fill="#000">J4A2</text>
<polygon points="70,255 73,252 108,252 111,255 111,267 108,270 73,270 70,267" fill="#000"/>
<polygon points="72,255.5 73.5,254 106.5,254 108,255.5 108,265.5 106.5,267 73.5,267 72,265.5" fill="#fff"/>
<text transform="translate(75 264.4) scale(0.85 1)" font-family="Liberation Sans" font-size="11.81"  textLength="35.29" lengthAdjust="spacing" fill="#000">J5A2</text>
<polygon points="11,337 14,334 33,334 36,337 36,350 33,353 14,353 11,350" fill="#000"/>
<polygon points="13,338.5 14.5,337 32.5,337 34,338.5 34,349.5 32.5,351 14.5,351 13,349.5" fill="#fff"/>
<text transform="translate(15.5 349.1) scale(0.85 1)" font-family="Liberation Sans" font-size="12.78"  textLength="15.29" lengthAdjust="spacing" fill="#000">J1</text>
<polygon points="11,358 14,355 33,355 36,358 36,372 33,375 14,375 11,372" fill="#000"/>
<polygon points="13,359.5 14.5,358 32.5,358 34,359.5 34,371.5 32.5,373 14.5,373 13,371.5" fill="#fff"/>
<text transform="translate(15.5 370.6) scale(0.85 1)" font-family="Liberation Sans" font-size="12.78"  textLength="15.29" lengthAdjust="spacing" fill="#000">J2</text>
<polygon points="11,381 14,378 34,378 37,381 37,394 34,397 14,397 11,394" fill="#000"/>
<polygon points="13,382.5 14.5,381 33.5,381 35,382.5 35,393.5 33.5,395 14.5,395 13,393.5" fill="#fff"/>
<text transform="translate(15.5 393.1) scale(0.85 1)" font-family="Liberation Sans" font-size="12.78"  textLength="15.29" lengthAdjust="spacing" fill="#000">J3</text>
<polygon points="11,412 14,409 34,409 37,412 37,425 34,428 14,428 11,425" fill="#000"/>
<polygon points="13,413.5 14.5,412 33.5,412 35,413.5 35,424.5 33.5,426 14.5,426 13,424.5" fill="#fff"/>
<text transform="translate(15.5 424.1) scale(0.85 1)" font-family="Liberation Sans" font-size="12.78"  textLength="15.29" lengthAdjust="spacing" fill="#000">J4</text>
<polygon points="11,434 14,431 34,431 37,434 37,447 34,450 14,450 11,447" fill="#000"/>
<polygon points="13,435.5 14.5,434 33.5,434 35,435.5 35,446.5 33.5,448 14.5,448 13,446.5" fill="#fff"/>
<text transform="translate(15.5 446.1) scale(0.85 1)" font-family="Liberation Sans" font-size="12.78"  textLength="15.29" lengthAdjust="spacing" fill="#000">J5</text>
<polygon points="634,276 637,273 667,273 670,276 670,289 667,292 637,292 634,289" fill="#000"/>
<polygon points="636,276.5 637.5,275 666.5,275 668,276.5 668,287.5 666.5,289 637.5,289 636,287.5" fill="#fff"/>
<text transform="translate(642 286) scale(0.7 1)" font-family="Liberation Sans" font-size="13.47"  textLength="28.57" lengthAdjust="spacing" fill="#000">JP1</text>
<polygon points="567,452 570,449 600,449 603,452 603,465 600,468 570,468 567,465" fill="#000"/>
<polygon points="569,452.5 570.5,451 598.5,451 600,452.5 600,463.5 598.5,465 570.5,465 569,463.5" fill="#fff"/>
<text transform="translate(574.15 462.3) scale(0.85 1)" font-family="Liberation Sans" font-size="11.94"  textLength="24.35" lengthAdjust="spacing" fill="#000">J95</text>
<polygon points="604,469 607,466 637,466 640,469 640,480 637,483 607,483 604,480" fill="#000"/>
<polygon points="606,469.5 607.5,468 635.5,468 637,469.5 637,478.5 635.5,480 607.5,480 606,478.5" fill="#fff"/>
<text transform="translate(611.15 478.3) scale(0.85 1)" font-family="Liberation Sans" font-size="11.94"  textLength="24.35" lengthAdjust="spacing" fill="#000">J96</text>
<polygon points="601,488 604,485 634,485 637,488 637,499 634,502 604,502 601,499" fill="#000"/>
<polygon points="603,488.5 604.5,487 632.5,487 634,488.5 634,497.5 632.5,499 604.5,499 603,497.5" fill="#fff"/>
<text transform="translate(608.15 497.3) scale(0.85 1)" font-family="Liberation Sans" font-size="11.94"  textLength="24.35" lengthAdjust="spacing" fill="#000">J97</text>
<polygon points="734,500 737,497 772,497 775,500 775,512 772,515 737,515 734,512" fill="#000"/>
<polygon points="736,500.5 737.5,499 770.5,499 772,500.5 772,510.5 770.5,512 737.5,512 736,510.5" fill="#fff"/>
<text transform="translate(739.95 509.8) scale(0.85 1)" font-family="Liberation Sans" font-size="11.94"  textLength="33.06" lengthAdjust="spacing" fill="#000">J9N1</text>
<rect x="42" y="209" width="7" height="19" fill="#000"/>
<rect x="43" y="210" width="5" height="1" fill="#fff"/>
<rect x="43" y="210" width="1" height="17" fill="#fff"/>
<rect x="43" y="216" width="5" height="1" fill="#fff"/>
<rect x="43" y="221" width="5" height="1" fill="#fff"/>
<rect x="45" y="212" width="2" height="2" fill="#fff"/>
<rect x="51" y="209" width="6" height="19" fill="#000"/>
<rect x="52" y="210" width="4" height="1" fill="#fff"/>
<rect x="52" y="216" width="4" height="1" fill="#fff"/>
<rect x="52" y="221" width="4" height="1" fill="#fff"/>
<rect x="53" y="212" width="2" height="2" fill="#fff"/>
<rect x="49" y="250" width="7" height="20" fill="#000"/>
<rect x="50" y="251" width="5" height="1" fill="#fff"/>
<rect x="54" y="251" width="1" height="18" fill="#fff"/>
<rect x="50" y="257" width="5" height="1" fill="#fff"/>
<rect x="50" y="263" width="5" height="1" fill="#fff"/>
<rect x="51" y="253" width="2" height="2" fill="#fff"/>
<rect x="51" y="329" width="7" height="26" fill="#000"/>
<rect x="52" y="330" width="5" height="1" fill="#fff"/>
<rect x="56" y="330" width="1" height="24" fill="#fff"/>
<rect x="52" y="336" width="5" height="1" fill="#fff"/>
<rect x="52" y="342" width="5" height="1" fill="#fff"/>
<rect x="52" y="348" width="5" height="1" fill="#fff"/>
<rect x="53" y="332" width="2" height="2" fill="#fff"/>
<rect x="51" y="359" width="7" height="12" fill="#000"/>
<rect x="52" y="360" width="5" height="1" fill="#fff"/>
<rect x="56" y="360" width="1" height="10" fill="#fff"/>
<rect x="52" y="365" width="5" height="1" fill="#fff"/>
<rect x="51" y="374" width="7" height="31" fill="#000"/>
<rect x="52" y="375" width="5" height="1" fill="#fff"/>
<rect x="56" y="375" width="1" height="29" fill="#fff"/>
<rect x="52" y="381" width="5" height="1" fill="#fff"/>
<rect x="52" y="387" width="5" height="1" fill="#fff"/>
<rect x="52" y="392" width="5" height="1" fill="#fff"/>
<rect x="52" y="398" width="5" height="1" fill="#fff"/>
<rect x="53" y="377" width="2" height="2" fill="#fff"/>
<rect x="51" y="408" width="7" height="19" fill="#000"/>
<rect x="52" y="409" width="5" height="1" fill="#fff"/>
<rect x="56" y="409" width="1" height="17" fill="#fff"/>
<rect x="52" y="415" width="5" height="1" fill="#fff"/>
<rect x="52" y="420" width="5" height="1" fill="#fff"/>
<rect x="53" y="411" width="2" height="2" fill="#fff"/>
<rect x="51" y="433" width="7" height="13" fill="#000"/>
<rect x="52" y="434" width="5" height="1" fill="#fff"/>
<rect x="56" y="434" width="1" height="11" fill="#fff"/>
<rect x="52" y="440" width="5" height="1" fill="#fff"/>
<rect x="684" y="279" width="26" height="7" fill="#000"/>
<rect x="685" y="280" width="24" height="5" fill="#fff"/>
<rect x="686" y="279" width="22" height="5" fill="#000"/>
<rect x="691" y="280" width="1" height="4" fill="#fff"/>
<rect x="697" y="280" width="1" height="4" fill="#fff"/>
<rect x="702" y="280" width="1" height="4" fill="#fff"/>
<rect x="687" y="281" width="3" height="2" fill="#fff"/>
<rect x="771" y="522" width="19" height="7" fill="#000"/>
<rect x="779" y="523" width="1" height="5" fill="#fff"/>
<rect x="782" y="523" width="7" height="5" fill="#fff"/>
<rect x="783" y="524" width="4" height="3" fill="#000"/>
<rect x="784" y="525" width="2" height="1" fill="#fff"/>
<text transform="translate(678 105.5) scale(0.85 1)" font-family="Liberation Sans" font-size="11.81"  textLength="49.41" lengthAdjust="spacing" fill="#000">MH2418</text>
</svg></body></html>
